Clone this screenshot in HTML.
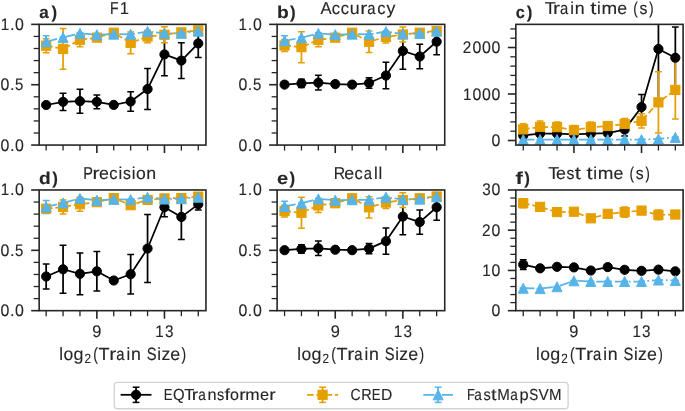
<!DOCTYPE html>
<html><head><meta charset="utf-8"><title>Figure</title><style>
html,body{margin:0;padding:0;background:#fff;width:685px;height:411px;overflow:hidden}
svg{display:block;will-change:transform}
text{font-family:"Liberation Sans",sans-serif;font-kerning:none;white-space:pre;text-rendering:geometricPrecision;stroke:#262626;stroke-width:0.12px}
</style></head><body>
<svg width="685" height="411" viewBox="0 0 685 411"><defs><clipPath id="c0"><rect x="39.16" y="24.37" width="166.79" height="120.70"/></clipPath><clipPath id="c1"><rect x="277.12" y="24.37" width="167.61" height="120.70"/></clipPath><clipPath id="c2"><rect x="515.84" y="24.37" width="167.26" height="120.70"/></clipPath><clipPath id="c3"><rect x="39.16" y="189.97" width="166.79" height="120.70"/></clipPath><clipPath id="c4"><rect x="277.12" y="189.97" width="167.61" height="120.70"/></clipPath><clipPath id="c5"><rect x="515.84" y="189.97" width="167.26" height="120.70"/></clipPath></defs><rect width="685" height="411" fill="#fff"/>
<line x1="33.66" y1="133.00" x2="39.16" y2="133.00" stroke="#262626" stroke-width="1.3"/>
<line x1="33.66" y1="120.93" x2="39.16" y2="120.93" stroke="#262626" stroke-width="1.3"/>
<line x1="33.66" y1="108.86" x2="39.16" y2="108.86" stroke="#262626" stroke-width="1.3"/>
<line x1="33.66" y1="96.79" x2="39.16" y2="96.79" stroke="#262626" stroke-width="1.3"/>
<line x1="33.66" y1="72.65" x2="39.16" y2="72.65" stroke="#262626" stroke-width="1.3"/>
<line x1="33.66" y1="60.58" x2="39.16" y2="60.58" stroke="#262626" stroke-width="1.3"/>
<line x1="33.66" y1="48.51" x2="39.16" y2="48.51" stroke="#262626" stroke-width="1.3"/>
<line x1="33.66" y1="36.44" x2="39.16" y2="36.44" stroke="#262626" stroke-width="1.3"/>
<line x1="31.16" y1="145.07" x2="39.16" y2="145.07" stroke="#262626" stroke-width="1.6"/>
<line x1="31.16" y1="84.72" x2="39.16" y2="84.72" stroke="#262626" stroke-width="1.6"/>
<line x1="31.16" y1="24.37" x2="39.16" y2="24.37" stroke="#262626" stroke-width="1.6"/>
<line x1="46.16" y1="145.07" x2="46.16" y2="150.57" stroke="#262626" stroke-width="1.3"/>
<line x1="63.06" y1="145.07" x2="63.06" y2="150.57" stroke="#262626" stroke-width="1.3"/>
<line x1="79.96" y1="145.07" x2="79.96" y2="150.57" stroke="#262626" stroke-width="1.3"/>
<line x1="96.86" y1="145.07" x2="96.86" y2="153.07" stroke="#262626" stroke-width="1.6"/>
<line x1="113.76" y1="145.07" x2="113.76" y2="150.57" stroke="#262626" stroke-width="1.3"/>
<line x1="130.66" y1="145.07" x2="130.66" y2="150.57" stroke="#262626" stroke-width="1.3"/>
<line x1="147.56" y1="145.07" x2="147.56" y2="150.57" stroke="#262626" stroke-width="1.3"/>
<line x1="164.46" y1="145.07" x2="164.46" y2="153.07" stroke="#262626" stroke-width="1.6"/>
<line x1="181.36" y1="145.07" x2="181.36" y2="150.57" stroke="#262626" stroke-width="1.3"/>
<line x1="198.26" y1="145.07" x2="198.26" y2="150.57" stroke="#262626" stroke-width="1.3"/>
<text y="151" font-size="16.75" fill="#262626"><tspan x="0.52" textLength="8.85" lengthAdjust="spacingAndGlyphs">0</tspan><tspan x="9.88" textLength="4.54" lengthAdjust="spacingAndGlyphs">.</tspan><tspan x="14.93" textLength="8.85" lengthAdjust="spacingAndGlyphs">0</tspan></text>
<text y="90" font-size="16.75" fill="#262626"><tspan x="0.52" textLength="8.85" lengthAdjust="spacingAndGlyphs">0</tspan><tspan x="9.88" textLength="4.54" lengthAdjust="spacingAndGlyphs">.</tspan><tspan x="15.12" textLength="8.35" lengthAdjust="spacingAndGlyphs">5</tspan></text>
<text y="30" font-size="16.75" fill="#262626"><tspan x="0.65" textLength="8.45" lengthAdjust="spacingAndGlyphs">1</tspan><tspan x="9.88" textLength="4.54" lengthAdjust="spacingAndGlyphs">.</tspan><tspan x="14.93" textLength="8.85" lengthAdjust="spacingAndGlyphs">0</tspan></text>
<g stroke="#000000" stroke-width="1.75" clip-path="url(#c0)"><line x1="46.16" y1="103.00" x2="46.16" y2="107.00"/><line x1="42.76" y1="103.00" x2="49.56" y2="103.00" stroke-width="1.5"/><line x1="42.76" y1="107.00" x2="49.56" y2="107.00" stroke-width="1.5"/><line x1="63.06" y1="93.16" x2="63.06" y2="110.56"/><line x1="59.66" y1="93.16" x2="66.46" y2="93.16" stroke-width="1.5"/><line x1="59.66" y1="110.56" x2="66.46" y2="110.56" stroke-width="1.5"/><line x1="79.96" y1="89.14" x2="79.96" y2="113.14"/><line x1="76.56" y1="89.14" x2="83.36" y2="89.14" stroke-width="1.5"/><line x1="76.56" y1="113.14" x2="83.36" y2="113.14" stroke-width="1.5"/><line x1="96.86" y1="94.96" x2="96.86" y2="108.76"/><line x1="93.46" y1="94.96" x2="100.26" y2="94.96" stroke-width="1.5"/><line x1="93.46" y1="108.76" x2="100.26" y2="108.76" stroke-width="1.5"/><line x1="113.76" y1="102.88" x2="113.76" y2="106.88"/><line x1="110.36" y1="102.88" x2="117.16" y2="102.88" stroke-width="1.5"/><line x1="110.36" y1="106.88" x2="117.16" y2="106.88" stroke-width="1.5"/><line x1="130.66" y1="91.80" x2="130.66" y2="111.20"/><line x1="127.26" y1="91.80" x2="134.06" y2="91.80" stroke-width="1.5"/><line x1="127.26" y1="111.20" x2="134.06" y2="111.20" stroke-width="1.5"/><line x1="147.56" y1="68.57" x2="147.56" y2="109.57"/><line x1="144.16" y1="68.57" x2="150.96" y2="68.57" stroke-width="1.5"/><line x1="144.16" y1="109.57" x2="150.96" y2="109.57" stroke-width="1.5"/><line x1="164.46" y1="33.02" x2="164.46" y2="75.82"/><line x1="161.06" y1="33.02" x2="167.86" y2="33.02" stroke-width="1.5"/><line x1="161.06" y1="75.82" x2="167.86" y2="75.82" stroke-width="1.5"/><line x1="181.36" y1="42.78" x2="181.36" y2="78.38"/><line x1="177.96" y1="42.78" x2="184.76" y2="42.78" stroke-width="1.5"/><line x1="177.96" y1="78.38" x2="184.76" y2="78.38" stroke-width="1.5"/><line x1="198.26" y1="29.34" x2="198.26" y2="57.54"/><line x1="194.86" y1="29.34" x2="201.66" y2="29.34" stroke-width="1.5"/><line x1="194.86" y1="57.54" x2="201.66" y2="57.54" stroke-width="1.5"/></g>
<g stroke="#e69f00" stroke-width="1.75" clip-path="url(#c0)"><line x1="46.16" y1="38.83" x2="46.16" y2="52.63"/><line x1="42.76" y1="38.83" x2="49.56" y2="38.83" stroke-width="1.5"/><line x1="42.76" y1="52.63" x2="49.56" y2="52.63" stroke-width="1.5"/><line x1="63.06" y1="28.47" x2="63.06" y2="69.27"/><line x1="59.66" y1="28.47" x2="66.46" y2="28.47" stroke-width="1.5"/><line x1="59.66" y1="69.27" x2="66.46" y2="69.27" stroke-width="1.5"/><line x1="79.96" y1="33.14" x2="79.96" y2="46.74"/><line x1="76.56" y1="33.14" x2="83.36" y2="33.14" stroke-width="1.5"/><line x1="76.56" y1="46.74" x2="83.36" y2="46.74" stroke-width="1.5"/><line x1="96.86" y1="34.65" x2="96.86" y2="40.65"/><line x1="93.46" y1="34.65" x2="100.26" y2="34.65" stroke-width="1.5"/><line x1="93.46" y1="40.65" x2="100.26" y2="40.65" stroke-width="1.5"/><line x1="113.76" y1="30.70" x2="113.76" y2="34.70"/><line x1="110.36" y1="30.70" x2="117.16" y2="30.70" stroke-width="1.5"/><line x1="110.36" y1="34.70" x2="117.16" y2="34.70" stroke-width="1.5"/><line x1="130.66" y1="32.04" x2="130.66" y2="53.64"/><line x1="127.26" y1="32.04" x2="134.06" y2="32.04" stroke-width="1.5"/><line x1="127.26" y1="53.64" x2="134.06" y2="53.64" stroke-width="1.5"/><line x1="147.56" y1="30.26" x2="147.56" y2="42.86"/><line x1="144.16" y1="30.26" x2="150.96" y2="30.26" stroke-width="1.5"/><line x1="144.16" y1="42.86" x2="150.96" y2="42.86" stroke-width="1.5"/><line x1="164.46" y1="26.75" x2="164.46" y2="42.75"/><line x1="161.06" y1="26.75" x2="167.86" y2="26.75" stroke-width="1.5"/><line x1="161.06" y1="42.75" x2="167.86" y2="42.75" stroke-width="1.5"/><line x1="181.36" y1="29.34" x2="181.36" y2="35.34"/><line x1="177.96" y1="29.34" x2="184.76" y2="29.34" stroke-width="1.5"/><line x1="177.96" y1="35.34" x2="184.76" y2="35.34" stroke-width="1.5"/><line x1="198.26" y1="27.41" x2="198.26" y2="33.41"/><line x1="194.86" y1="27.41" x2="201.66" y2="27.41" stroke-width="1.5"/><line x1="194.86" y1="33.41" x2="201.66" y2="33.41" stroke-width="1.5"/></g>
<g stroke="#56b4e9" stroke-width="1.75" clip-path="url(#c0)"><line x1="46.16" y1="35.65" x2="46.16" y2="47.85"/><line x1="42.76" y1="35.65" x2="49.56" y2="35.65" stroke-width="1.5"/><line x1="42.76" y1="47.85" x2="49.56" y2="47.85" stroke-width="1.5"/><line x1="63.06" y1="37.11" x2="63.06" y2="37.71"/><line x1="59.66" y1="37.11" x2="66.46" y2="37.11" stroke-width="1.5"/><line x1="59.66" y1="37.71" x2="66.46" y2="37.71" stroke-width="1.5"/><line x1="79.96" y1="33.12" x2="79.96" y2="33.72"/><line x1="76.56" y1="33.12" x2="83.36" y2="33.12" stroke-width="1.5"/><line x1="76.56" y1="33.72" x2="83.36" y2="33.72" stroke-width="1.5"/><line x1="96.86" y1="34.45" x2="96.86" y2="35.05"/><line x1="93.46" y1="34.45" x2="100.26" y2="34.45" stroke-width="1.5"/><line x1="93.46" y1="35.05" x2="100.26" y2="35.05" stroke-width="1.5"/><line x1="113.76" y1="33.85" x2="113.76" y2="34.45"/><line x1="110.36" y1="33.85" x2="117.16" y2="33.85" stroke-width="1.5"/><line x1="110.36" y1="34.45" x2="117.16" y2="34.45" stroke-width="1.5"/><line x1="130.66" y1="33.97" x2="130.66" y2="34.57"/><line x1="127.26" y1="33.97" x2="134.06" y2="33.97" stroke-width="1.5"/><line x1="127.26" y1="34.57" x2="134.06" y2="34.57" stroke-width="1.5"/><line x1="147.56" y1="31.19" x2="147.56" y2="31.79"/><line x1="144.16" y1="31.19" x2="150.96" y2="31.19" stroke-width="1.5"/><line x1="144.16" y1="31.79" x2="150.96" y2="31.79" stroke-width="1.5"/><line x1="164.46" y1="33.00" x2="164.46" y2="33.60"/><line x1="161.06" y1="33.00" x2="167.86" y2="33.00" stroke-width="1.5"/><line x1="161.06" y1="33.60" x2="167.86" y2="33.60" stroke-width="1.5"/><line x1="181.36" y1="33.00" x2="181.36" y2="33.60"/><line x1="177.96" y1="33.00" x2="184.76" y2="33.00" stroke-width="1.5"/><line x1="177.96" y1="33.60" x2="184.76" y2="33.60" stroke-width="1.5"/><line x1="198.26" y1="30.83" x2="198.26" y2="31.43"/><line x1="194.86" y1="30.83" x2="201.66" y2="30.83" stroke-width="1.5"/><line x1="194.86" y1="31.43" x2="201.66" y2="31.43" stroke-width="1.5"/></g>
<path d="M46.16,105.00 L63.06,101.86 L79.96,101.14 L96.86,101.86 L113.76,104.88 L130.66,101.50 L147.56,89.07 L164.46,54.42 L181.36,60.58 L198.26,43.44" fill="none" stroke="#000000" stroke-width="1.75" stroke-linejoin="round" clip-path="url(#c0)"/><g fill="#000000" stroke="#000000" stroke-width="1.0" clip-path="url(#c0)"><circle cx="46.16" cy="105.00" r="4.60"/><circle cx="63.06" cy="101.86" r="4.60"/><circle cx="79.96" cy="101.14" r="4.60"/><circle cx="96.86" cy="101.86" r="4.60"/><circle cx="113.76" cy="104.88" r="4.60"/><circle cx="130.66" cy="101.50" r="4.60"/><circle cx="147.56" cy="89.07" r="4.60"/><circle cx="164.46" cy="54.42" r="4.60"/><circle cx="181.36" cy="60.58" r="4.60"/><circle cx="198.26" cy="43.44" r="4.60"/></g>
<path d="M46.16,45.73 L63.06,48.87 L79.96,39.94 L96.86,37.65 L113.76,32.70 L130.66,42.84 L147.56,36.56 L164.46,34.75 L181.36,32.34 L198.26,30.41" fill="none" stroke="#e69f00" stroke-width="1.75" stroke-dasharray="6.48 2.80" stroke-linejoin="round" clip-path="url(#c0)"/><g fill="#e69f00" stroke="#e69f00" stroke-width="1.0" clip-path="url(#c0)"><rect x="41.56" y="41.13" width="9.20" height="9.20"/><rect x="58.46" y="44.27" width="9.20" height="9.20"/><rect x="75.36" y="35.34" width="9.20" height="9.20"/><rect x="92.26" y="33.05" width="9.20" height="9.20"/><rect x="109.16" y="28.10" width="9.20" height="9.20"/><rect x="126.06" y="38.24" width="9.20" height="9.20"/><rect x="142.96" y="31.96" width="9.20" height="9.20"/><rect x="159.86" y="30.15" width="9.20" height="9.20"/><rect x="176.76" y="27.74" width="9.20" height="9.20"/><rect x="193.66" y="25.80" width="9.20" height="9.20"/></g>
<path d="M46.16,41.75 L63.06,37.41 L79.96,33.42 L96.86,34.75 L113.76,34.15 L130.66,34.27 L147.56,31.49 L164.46,33.30 L181.36,33.30 L198.26,31.13" fill="none" stroke="#56b4e9" stroke-width="1.75" stroke-dasharray="11.20 2.80 1.75 2.80" stroke-linejoin="round" clip-path="url(#c0)"/><g fill="#56b4e9" stroke="#56b4e9" stroke-width="1.0" clip-path="url(#c0)"><path d="M46.16,36.75 L41.16,46.75 L51.16,46.75 Z"/><path d="M63.06,32.41 L58.06,42.41 L68.06,42.41 Z"/><path d="M79.96,28.42 L74.96,38.42 L84.96,38.42 Z"/><path d="M96.86,29.75 L91.86,39.75 L101.86,39.75 Z"/><path d="M113.76,29.15 L108.76,39.15 L118.76,39.15 Z"/><path d="M130.66,29.27 L125.66,39.27 L135.66,39.27 Z"/><path d="M147.56,26.49 L142.56,36.49 L152.56,36.49 Z"/><path d="M164.46,28.30 L159.46,38.30 L169.46,38.30 Z"/><path d="M181.36,28.30 L176.36,38.30 L186.36,38.30 Z"/><path d="M198.26,26.13 L193.26,36.13 L203.26,36.13 Z"/></g>
<rect x="39.16" y="24.37" width="166.79" height="120.70" fill="none" stroke="#262626" stroke-width="1.6" stroke-linecap="square"/>
<line x1="271.62" y1="133.00" x2="277.12" y2="133.00" stroke="#262626" stroke-width="1.3"/>
<line x1="271.62" y1="120.93" x2="277.12" y2="120.93" stroke="#262626" stroke-width="1.3"/>
<line x1="271.62" y1="108.86" x2="277.12" y2="108.86" stroke="#262626" stroke-width="1.3"/>
<line x1="271.62" y1="96.79" x2="277.12" y2="96.79" stroke="#262626" stroke-width="1.3"/>
<line x1="271.62" y1="72.65" x2="277.12" y2="72.65" stroke="#262626" stroke-width="1.3"/>
<line x1="271.62" y1="60.58" x2="277.12" y2="60.58" stroke="#262626" stroke-width="1.3"/>
<line x1="271.62" y1="48.51" x2="277.12" y2="48.51" stroke="#262626" stroke-width="1.3"/>
<line x1="271.62" y1="36.44" x2="277.12" y2="36.44" stroke="#262626" stroke-width="1.3"/>
<line x1="269.12" y1="145.07" x2="277.12" y2="145.07" stroke="#262626" stroke-width="1.6"/>
<line x1="269.12" y1="84.72" x2="277.12" y2="84.72" stroke="#262626" stroke-width="1.6"/>
<line x1="269.12" y1="24.37" x2="277.12" y2="24.37" stroke="#262626" stroke-width="1.6"/>
<line x1="284.55" y1="145.07" x2="284.55" y2="150.57" stroke="#262626" stroke-width="1.3"/>
<line x1="301.45" y1="145.07" x2="301.45" y2="150.57" stroke="#262626" stroke-width="1.3"/>
<line x1="318.35" y1="145.07" x2="318.35" y2="150.57" stroke="#262626" stroke-width="1.3"/>
<line x1="335.25" y1="145.07" x2="335.25" y2="153.07" stroke="#262626" stroke-width="1.6"/>
<line x1="352.15" y1="145.07" x2="352.15" y2="150.57" stroke="#262626" stroke-width="1.3"/>
<line x1="369.05" y1="145.07" x2="369.05" y2="150.57" stroke="#262626" stroke-width="1.3"/>
<line x1="385.95" y1="145.07" x2="385.95" y2="150.57" stroke="#262626" stroke-width="1.3"/>
<line x1="402.85" y1="145.07" x2="402.85" y2="153.07" stroke="#262626" stroke-width="1.6"/>
<line x1="419.75" y1="145.07" x2="419.75" y2="150.57" stroke="#262626" stroke-width="1.3"/>
<line x1="436.65" y1="145.07" x2="436.65" y2="150.57" stroke="#262626" stroke-width="1.3"/>
<text y="151" font-size="16.75" fill="#262626"><tspan x="238.48" textLength="8.85" lengthAdjust="spacingAndGlyphs">0</tspan><tspan x="247.84" textLength="4.54" lengthAdjust="spacingAndGlyphs">.</tspan><tspan x="252.89" textLength="8.85" lengthAdjust="spacingAndGlyphs">0</tspan></text>
<text y="90" font-size="16.75" fill="#262626"><tspan x="238.48" textLength="8.85" lengthAdjust="spacingAndGlyphs">0</tspan><tspan x="247.84" textLength="4.54" lengthAdjust="spacingAndGlyphs">.</tspan><tspan x="253.08" textLength="8.35" lengthAdjust="spacingAndGlyphs">5</tspan></text>
<text y="30" font-size="16.75" fill="#262626"><tspan x="238.61" textLength="8.45" lengthAdjust="spacingAndGlyphs">1</tspan><tspan x="247.84" textLength="4.54" lengthAdjust="spacingAndGlyphs">.</tspan><tspan x="252.89" textLength="8.85" lengthAdjust="spacingAndGlyphs">0</tspan></text>
<g stroke="#000000" stroke-width="1.75" clip-path="url(#c1)"><line x1="284.55" y1="82.60" x2="284.55" y2="86.60"/><line x1="281.15" y1="82.60" x2="287.95" y2="82.60" stroke-width="1.5"/><line x1="281.15" y1="86.60" x2="287.95" y2="86.60" stroke-width="1.5"/><line x1="301.45" y1="79.19" x2="301.45" y2="87.59"/><line x1="298.05" y1="79.19" x2="304.85" y2="79.19" stroke-width="1.5"/><line x1="298.05" y1="87.59" x2="304.85" y2="87.59" stroke-width="1.5"/><line x1="318.35" y1="75.37" x2="318.35" y2="89.97"/><line x1="314.95" y1="75.37" x2="321.75" y2="75.37" stroke-width="1.5"/><line x1="314.95" y1="89.97" x2="321.75" y2="89.97" stroke-width="1.5"/><line x1="335.25" y1="82.12" x2="335.25" y2="86.12"/><line x1="331.85" y1="82.12" x2="338.65" y2="82.12" stroke-width="1.5"/><line x1="331.85" y1="86.12" x2="338.65" y2="86.12" stroke-width="1.5"/><line x1="352.15" y1="82.60" x2="352.15" y2="86.60"/><line x1="348.75" y1="82.60" x2="355.55" y2="82.60" stroke-width="1.5"/><line x1="348.75" y1="86.60" x2="355.55" y2="86.60" stroke-width="1.5"/><line x1="369.05" y1="77.83" x2="369.05" y2="88.23"/><line x1="365.65" y1="77.83" x2="372.45" y2="77.83" stroke-width="1.5"/><line x1="365.65" y1="88.23" x2="372.45" y2="88.23" stroke-width="1.5"/><line x1="385.95" y1="62.35" x2="385.95" y2="88.75"/><line x1="382.55" y1="62.35" x2="389.35" y2="62.35" stroke-width="1.5"/><line x1="382.55" y1="88.75" x2="389.35" y2="88.75" stroke-width="1.5"/><line x1="402.85" y1="32.62" x2="402.85" y2="69.22"/><line x1="399.45" y1="32.62" x2="406.25" y2="32.62" stroke-width="1.5"/><line x1="399.45" y1="69.22" x2="406.25" y2="69.22" stroke-width="1.5"/><line x1="419.75" y1="44.28" x2="419.75" y2="68.68"/><line x1="416.35" y1="44.28" x2="423.15" y2="44.28" stroke-width="1.5"/><line x1="416.35" y1="68.68" x2="423.15" y2="68.68" stroke-width="1.5"/><line x1="436.65" y1="28.53" x2="436.65" y2="54.73"/><line x1="433.25" y1="28.53" x2="440.05" y2="28.53" stroke-width="1.5"/><line x1="433.25" y1="54.73" x2="440.05" y2="54.73" stroke-width="1.5"/></g>
<g stroke="#e69f00" stroke-width="1.75" clip-path="url(#c1)"><line x1="284.55" y1="39.59" x2="284.55" y2="51.39"/><line x1="281.15" y1="39.59" x2="287.95" y2="39.59" stroke-width="1.5"/><line x1="281.15" y1="51.39" x2="287.95" y2="51.39" stroke-width="1.5"/><line x1="301.45" y1="31.68" x2="301.45" y2="62.68"/><line x1="298.05" y1="31.68" x2="304.85" y2="31.68" stroke-width="1.5"/><line x1="298.05" y1="62.68" x2="304.85" y2="62.68" stroke-width="1.5"/><line x1="318.35" y1="32.82" x2="318.35" y2="46.82"/><line x1="314.95" y1="32.82" x2="321.75" y2="32.82" stroke-width="1.5"/><line x1="314.95" y1="46.82" x2="321.75" y2="46.82" stroke-width="1.5"/><line x1="335.25" y1="34.65" x2="335.25" y2="40.65"/><line x1="331.85" y1="34.65" x2="338.65" y2="34.65" stroke-width="1.5"/><line x1="331.85" y1="40.65" x2="338.65" y2="40.65" stroke-width="1.5"/><line x1="352.15" y1="30.70" x2="352.15" y2="34.70"/><line x1="348.75" y1="30.70" x2="355.55" y2="30.70" stroke-width="1.5"/><line x1="348.75" y1="34.70" x2="355.55" y2="34.70" stroke-width="1.5"/><line x1="369.05" y1="31.05" x2="369.05" y2="52.45"/><line x1="365.65" y1="31.05" x2="372.45" y2="31.05" stroke-width="1.5"/><line x1="365.65" y1="52.45" x2="372.45" y2="52.45" stroke-width="1.5"/><line x1="385.95" y1="30.92" x2="385.95" y2="42.92"/><line x1="382.55" y1="30.92" x2="389.35" y2="30.92" stroke-width="1.5"/><line x1="382.55" y1="42.92" x2="389.35" y2="42.92" stroke-width="1.5"/><line x1="402.85" y1="27.11" x2="402.85" y2="41.91"/><line x1="399.45" y1="27.11" x2="406.25" y2="27.11" stroke-width="1.5"/><line x1="399.45" y1="41.91" x2="406.25" y2="41.91" stroke-width="1.5"/><line x1="419.75" y1="29.70" x2="419.75" y2="35.70"/><line x1="416.35" y1="29.70" x2="423.15" y2="29.70" stroke-width="1.5"/><line x1="416.35" y1="35.70" x2="423.15" y2="35.70" stroke-width="1.5"/><line x1="436.65" y1="27.89" x2="436.65" y2="33.89"/><line x1="433.25" y1="27.89" x2="440.05" y2="27.89" stroke-width="1.5"/><line x1="433.25" y1="33.89" x2="440.05" y2="33.89" stroke-width="1.5"/></g>
<g stroke="#56b4e9" stroke-width="1.75" clip-path="url(#c1)"><line x1="284.55" y1="35.69" x2="284.55" y2="45.89"/><line x1="281.15" y1="35.69" x2="287.95" y2="35.69" stroke-width="1.5"/><line x1="281.15" y1="45.89" x2="287.95" y2="45.89" stroke-width="1.5"/><line x1="301.45" y1="37.35" x2="301.45" y2="37.95"/><line x1="298.05" y1="37.35" x2="304.85" y2="37.35" stroke-width="1.5"/><line x1="298.05" y1="37.95" x2="304.85" y2="37.95" stroke-width="1.5"/><line x1="318.35" y1="33.12" x2="318.35" y2="33.72"/><line x1="314.95" y1="33.12" x2="321.75" y2="33.12" stroke-width="1.5"/><line x1="314.95" y1="33.72" x2="321.75" y2="33.72" stroke-width="1.5"/><line x1="335.25" y1="34.33" x2="335.25" y2="34.93"/><line x1="331.85" y1="34.33" x2="338.65" y2="34.33" stroke-width="1.5"/><line x1="331.85" y1="34.93" x2="338.65" y2="34.93" stroke-width="1.5"/><line x1="352.15" y1="33.85" x2="352.15" y2="34.45"/><line x1="348.75" y1="33.85" x2="355.55" y2="33.85" stroke-width="1.5"/><line x1="348.75" y1="34.45" x2="355.55" y2="34.45" stroke-width="1.5"/><line x1="369.05" y1="33.97" x2="369.05" y2="34.57"/><line x1="365.65" y1="33.97" x2="372.45" y2="33.97" stroke-width="1.5"/><line x1="365.65" y1="34.57" x2="372.45" y2="34.57" stroke-width="1.5"/><line x1="385.95" y1="31.31" x2="385.95" y2="31.91"/><line x1="382.55" y1="31.31" x2="389.35" y2="31.31" stroke-width="1.5"/><line x1="382.55" y1="31.91" x2="389.35" y2="31.91" stroke-width="1.5"/><line x1="402.85" y1="33.61" x2="402.85" y2="34.21"/><line x1="399.45" y1="33.61" x2="406.25" y2="33.61" stroke-width="1.5"/><line x1="399.45" y1="34.21" x2="406.25" y2="34.21" stroke-width="1.5"/><line x1="419.75" y1="33.24" x2="419.75" y2="33.84"/><line x1="416.35" y1="33.24" x2="423.15" y2="33.24" stroke-width="1.5"/><line x1="416.35" y1="33.84" x2="423.15" y2="33.84" stroke-width="1.5"/><line x1="436.65" y1="30.83" x2="436.65" y2="31.43"/><line x1="433.25" y1="30.83" x2="440.05" y2="30.83" stroke-width="1.5"/><line x1="433.25" y1="31.43" x2="440.05" y2="31.43" stroke-width="1.5"/></g>
<path d="M284.55,84.60 L301.45,83.39 L318.35,82.67 L335.25,84.12 L352.15,84.60 L369.05,83.03 L385.95,75.55 L402.85,50.92 L419.75,56.48 L436.65,41.63" fill="none" stroke="#000000" stroke-width="1.75" stroke-linejoin="round" clip-path="url(#c1)"/><g fill="#000000" stroke="#000000" stroke-width="1.0" clip-path="url(#c1)"><circle cx="284.55" cy="84.60" r="4.60"/><circle cx="301.45" cy="83.39" r="4.60"/><circle cx="318.35" cy="82.67" r="4.60"/><circle cx="335.25" cy="84.12" r="4.60"/><circle cx="352.15" cy="84.60" r="4.60"/><circle cx="369.05" cy="83.03" r="4.60"/><circle cx="385.95" cy="75.55" r="4.60"/><circle cx="402.85" cy="50.92" r="4.60"/><circle cx="419.75" cy="56.48" r="4.60"/><circle cx="436.65" cy="41.63" r="4.60"/></g>
<path d="M284.55,45.49 L301.45,47.18 L318.35,39.82 L335.25,37.65 L352.15,32.70 L369.05,41.75 L385.95,36.92 L402.85,34.51 L419.75,32.70 L436.65,30.89" fill="none" stroke="#e69f00" stroke-width="1.75" stroke-dasharray="6.48 2.80" stroke-linejoin="round" clip-path="url(#c1)"/><g fill="#e69f00" stroke="#e69f00" stroke-width="1.0" clip-path="url(#c1)"><rect x="279.95" y="40.89" width="9.20" height="9.20"/><rect x="296.85" y="42.58" width="9.20" height="9.20"/><rect x="313.75" y="35.22" width="9.20" height="9.20"/><rect x="330.65" y="33.05" width="9.20" height="9.20"/><rect x="347.55" y="28.10" width="9.20" height="9.20"/><rect x="364.45" y="37.15" width="9.20" height="9.20"/><rect x="381.35" y="32.32" width="9.20" height="9.20"/><rect x="398.25" y="29.91" width="9.20" height="9.20"/><rect x="415.15" y="28.10" width="9.20" height="9.20"/><rect x="432.05" y="26.29" width="9.20" height="9.20"/></g>
<path d="M284.55,40.79 L301.45,37.65 L318.35,33.42 L335.25,34.63 L352.15,34.15 L369.05,34.27 L385.95,31.61 L402.85,33.91 L419.75,33.54 L436.65,31.13" fill="none" stroke="#56b4e9" stroke-width="1.75" stroke-dasharray="11.20 2.80 1.75 2.80" stroke-linejoin="round" clip-path="url(#c1)"/><g fill="#56b4e9" stroke="#56b4e9" stroke-width="1.0" clip-path="url(#c1)"><path d="M284.55,35.79 L279.55,45.79 L289.55,45.79 Z"/><path d="M301.45,32.65 L296.45,42.65 L306.45,42.65 Z"/><path d="M318.35,28.42 L313.35,38.42 L323.35,38.42 Z"/><path d="M335.25,29.63 L330.25,39.63 L340.25,39.63 Z"/><path d="M352.15,29.15 L347.15,39.15 L357.15,39.15 Z"/><path d="M369.05,29.27 L364.05,39.27 L374.05,39.27 Z"/><path d="M385.95,26.61 L380.95,36.61 L390.95,36.61 Z"/><path d="M402.85,28.91 L397.85,38.91 L407.85,38.91 Z"/><path d="M419.75,28.54 L414.75,38.54 L424.75,38.54 Z"/><path d="M436.65,26.13 L431.65,36.13 L441.65,36.13 Z"/></g>
<rect x="277.12" y="24.37" width="167.61" height="120.70" fill="none" stroke="#262626" stroke-width="1.6" stroke-linecap="square"/>
<line x1="510.34" y1="131.20" x2="515.84" y2="131.20" stroke="#262626" stroke-width="1.3"/>
<line x1="510.34" y1="121.90" x2="515.84" y2="121.90" stroke="#262626" stroke-width="1.3"/>
<line x1="510.34" y1="112.61" x2="515.84" y2="112.61" stroke="#262626" stroke-width="1.3"/>
<line x1="510.34" y1="103.31" x2="515.84" y2="103.31" stroke="#262626" stroke-width="1.3"/>
<line x1="510.34" y1="84.71" x2="515.84" y2="84.71" stroke="#262626" stroke-width="1.3"/>
<line x1="510.34" y1="75.41" x2="515.84" y2="75.41" stroke="#262626" stroke-width="1.3"/>
<line x1="510.34" y1="66.12" x2="515.84" y2="66.12" stroke="#262626" stroke-width="1.3"/>
<line x1="510.34" y1="56.82" x2="515.84" y2="56.82" stroke="#262626" stroke-width="1.3"/>
<line x1="510.34" y1="38.22" x2="515.84" y2="38.22" stroke="#262626" stroke-width="1.3"/>
<line x1="510.34" y1="28.92" x2="515.84" y2="28.92" stroke="#262626" stroke-width="1.3"/>
<line x1="507.84" y1="140.50" x2="515.84" y2="140.50" stroke="#262626" stroke-width="1.6"/>
<line x1="507.84" y1="94.01" x2="515.84" y2="94.01" stroke="#262626" stroke-width="1.6"/>
<line x1="507.84" y1="47.52" x2="515.84" y2="47.52" stroke="#262626" stroke-width="1.6"/>
<line x1="523.23" y1="145.07" x2="523.23" y2="150.57" stroke="#262626" stroke-width="1.3"/>
<line x1="540.13" y1="145.07" x2="540.13" y2="150.57" stroke="#262626" stroke-width="1.3"/>
<line x1="557.03" y1="145.07" x2="557.03" y2="150.57" stroke="#262626" stroke-width="1.3"/>
<line x1="573.93" y1="145.07" x2="573.93" y2="153.07" stroke="#262626" stroke-width="1.6"/>
<line x1="590.83" y1="145.07" x2="590.83" y2="150.57" stroke="#262626" stroke-width="1.3"/>
<line x1="607.73" y1="145.07" x2="607.73" y2="150.57" stroke="#262626" stroke-width="1.3"/>
<line x1="624.63" y1="145.07" x2="624.63" y2="150.57" stroke="#262626" stroke-width="1.3"/>
<line x1="641.53" y1="145.07" x2="641.53" y2="153.07" stroke="#262626" stroke-width="1.6"/>
<line x1="658.43" y1="145.07" x2="658.43" y2="150.57" stroke="#262626" stroke-width="1.3"/>
<line x1="675.33" y1="145.07" x2="675.33" y2="150.57" stroke="#262626" stroke-width="1.3"/>
<text y="146" font-size="16.75" fill="#262626"><tspan x="491.61" textLength="8.85" lengthAdjust="spacingAndGlyphs">0</tspan></text>
<text y="100" font-size="16.75" fill="#262626"><tspan x="462.91" textLength="8.45" lengthAdjust="spacingAndGlyphs">1</tspan><tspan x="472.39" textLength="8.85" lengthAdjust="spacingAndGlyphs">0</tspan><tspan x="482.00" textLength="8.85" lengthAdjust="spacingAndGlyphs">0</tspan><tspan x="491.61" textLength="8.85" lengthAdjust="spacingAndGlyphs">0</tspan></text>
<text y="53" font-size="16.75" fill="#262626"><tspan x="462.75" textLength="8.53" lengthAdjust="spacingAndGlyphs">2</tspan><tspan x="472.39" textLength="8.85" lengthAdjust="spacingAndGlyphs">0</tspan><tspan x="482.00" textLength="8.85" lengthAdjust="spacingAndGlyphs">0</tspan><tspan x="491.61" textLength="8.85" lengthAdjust="spacingAndGlyphs">0</tspan></text>
<g stroke="#000000" stroke-width="1.75" clip-path="url(#c2)"><line x1="523.23" y1="134.03" x2="523.23" y2="136.84"/><line x1="519.83" y1="134.03" x2="526.63" y2="134.03" stroke-width="1.5"/><line x1="519.83" y1="136.84" x2="526.63" y2="136.84" stroke-width="1.5"/><line x1="540.13" y1="132.19" x2="540.13" y2="134.99"/><line x1="536.73" y1="132.19" x2="543.53" y2="132.19" stroke-width="1.5"/><line x1="536.73" y1="134.99" x2="543.53" y2="134.99" stroke-width="1.5"/><line x1="557.03" y1="132.19" x2="557.03" y2="134.99"/><line x1="553.63" y1="132.19" x2="560.43" y2="132.19" stroke-width="1.5"/><line x1="553.63" y1="134.99" x2="560.43" y2="134.99" stroke-width="1.5"/><line x1="573.93" y1="133.02" x2="573.93" y2="135.82"/><line x1="570.53" y1="133.02" x2="577.33" y2="133.02" stroke-width="1.5"/><line x1="570.53" y1="135.82" x2="577.33" y2="135.82" stroke-width="1.5"/><line x1="590.83" y1="132.19" x2="590.83" y2="134.99"/><line x1="587.43" y1="132.19" x2="594.23" y2="132.19" stroke-width="1.5"/><line x1="587.43" y1="134.99" x2="594.23" y2="134.99" stroke-width="1.5"/><line x1="607.73" y1="131.64" x2="607.73" y2="134.44"/><line x1="604.33" y1="131.64" x2="611.13" y2="131.64" stroke-width="1.5"/><line x1="604.33" y1="134.44" x2="611.13" y2="134.44" stroke-width="1.5"/><line x1="624.63" y1="123.12" x2="624.63" y2="136.12"/><line x1="621.23" y1="123.12" x2="628.03" y2="123.12" stroke-width="1.5"/><line x1="621.23" y1="136.12" x2="628.03" y2="136.12" stroke-width="1.5"/><line x1="641.53" y1="94.41" x2="641.53" y2="119.61"/><line x1="638.13" y1="94.41" x2="644.93" y2="94.41" stroke-width="1.5"/><line x1="638.13" y1="119.61" x2="644.93" y2="119.61" stroke-width="1.5"/><line x1="658.43" y1="-4.50" x2="658.43" y2="102.50"/><line x1="655.03" y1="-4.50" x2="661.83" y2="-4.50" stroke-width="1.5"/><line x1="655.03" y1="102.50" x2="661.83" y2="102.50" stroke-width="1.5"/><line x1="675.33" y1="27.02" x2="675.33" y2="88.42"/><line x1="671.93" y1="27.02" x2="678.73" y2="27.02" stroke-width="1.5"/><line x1="671.93" y1="88.42" x2="678.73" y2="88.42" stroke-width="1.5"/></g>
<g stroke="#e69f00" stroke-width="1.75" clip-path="url(#c2)"><line x1="523.23" y1="123.79" x2="523.23" y2="134.99"/><line x1="519.83" y1="123.79" x2="526.63" y2="123.79" stroke-width="1.5"/><line x1="519.83" y1="134.99" x2="526.63" y2="134.99" stroke-width="1.5"/><line x1="540.13" y1="120.99" x2="540.13" y2="132.99"/><line x1="536.73" y1="120.99" x2="543.53" y2="120.99" stroke-width="1.5"/><line x1="536.73" y1="132.99" x2="543.53" y2="132.99" stroke-width="1.5"/><line x1="557.03" y1="121.97" x2="557.03" y2="132.37"/><line x1="553.63" y1="121.97" x2="560.43" y2="121.97" stroke-width="1.5"/><line x1="553.63" y1="132.37" x2="560.43" y2="132.37" stroke-width="1.5"/><line x1="573.93" y1="125.42" x2="573.93" y2="135.02"/><line x1="570.53" y1="125.42" x2="577.33" y2="125.42" stroke-width="1.5"/><line x1="570.53" y1="135.02" x2="577.33" y2="135.02" stroke-width="1.5"/><line x1="590.83" y1="121.97" x2="590.83" y2="132.37"/><line x1="587.43" y1="121.97" x2="594.23" y2="121.97" stroke-width="1.5"/><line x1="587.43" y1="132.37" x2="594.23" y2="132.37" stroke-width="1.5"/><line x1="607.73" y1="123.02" x2="607.73" y2="129.02"/><line x1="604.33" y1="123.02" x2="611.13" y2="123.02" stroke-width="1.5"/><line x1="604.33" y1="129.02" x2="611.13" y2="129.02" stroke-width="1.5"/><line x1="624.63" y1="118.49" x2="624.63" y2="129.49"/><line x1="621.23" y1="118.49" x2="628.03" y2="118.49" stroke-width="1.5"/><line x1="621.23" y1="129.49" x2="628.03" y2="129.49" stroke-width="1.5"/><line x1="641.53" y1="113.71" x2="641.53" y2="127.91"/><line x1="638.13" y1="113.71" x2="644.93" y2="113.71" stroke-width="1.5"/><line x1="638.13" y1="127.91" x2="644.93" y2="127.91" stroke-width="1.5"/><line x1="658.43" y1="71.79" x2="658.43" y2="132.99"/><line x1="655.03" y1="71.79" x2="661.83" y2="71.79" stroke-width="1.5"/><line x1="655.03" y1="132.99" x2="661.83" y2="132.99" stroke-width="1.5"/><line x1="675.33" y1="60.88" x2="675.33" y2="118.88"/><line x1="671.93" y1="60.88" x2="678.73" y2="60.88" stroke-width="1.5"/><line x1="671.93" y1="118.88" x2="678.73" y2="118.88" stroke-width="1.5"/></g>
<g stroke="#56b4e9" stroke-width="1.75" clip-path="url(#c2)"><line x1="523.23" y1="139.29" x2="523.23" y2="139.89"/><line x1="519.83" y1="139.29" x2="526.63" y2="139.29" stroke-width="1.5"/><line x1="519.83" y1="139.89" x2="526.63" y2="139.89" stroke-width="1.5"/><line x1="540.13" y1="139.29" x2="540.13" y2="139.89"/><line x1="536.73" y1="139.29" x2="543.53" y2="139.29" stroke-width="1.5"/><line x1="536.73" y1="139.89" x2="543.53" y2="139.89" stroke-width="1.5"/><line x1="557.03" y1="139.29" x2="557.03" y2="139.89"/><line x1="553.63" y1="139.29" x2="560.43" y2="139.29" stroke-width="1.5"/><line x1="553.63" y1="139.89" x2="560.43" y2="139.89" stroke-width="1.5"/><line x1="573.93" y1="139.29" x2="573.93" y2="139.89"/><line x1="570.53" y1="139.29" x2="577.33" y2="139.29" stroke-width="1.5"/><line x1="570.53" y1="139.89" x2="577.33" y2="139.89" stroke-width="1.5"/><line x1="590.83" y1="139.29" x2="590.83" y2="139.89"/><line x1="587.43" y1="139.29" x2="594.23" y2="139.29" stroke-width="1.5"/><line x1="587.43" y1="139.89" x2="594.23" y2="139.89" stroke-width="1.5"/><line x1="607.73" y1="139.29" x2="607.73" y2="139.89"/><line x1="604.33" y1="139.29" x2="611.13" y2="139.29" stroke-width="1.5"/><line x1="604.33" y1="139.89" x2="611.13" y2="139.89" stroke-width="1.5"/><line x1="624.63" y1="139.29" x2="624.63" y2="139.89"/><line x1="621.23" y1="139.29" x2="628.03" y2="139.29" stroke-width="1.5"/><line x1="621.23" y1="139.89" x2="628.03" y2="139.89" stroke-width="1.5"/><line x1="641.53" y1="139.29" x2="641.53" y2="139.89"/><line x1="638.13" y1="139.29" x2="644.93" y2="139.29" stroke-width="1.5"/><line x1="638.13" y1="139.89" x2="644.93" y2="139.89" stroke-width="1.5"/><line x1="658.43" y1="138.60" x2="658.43" y2="139.20"/><line x1="655.03" y1="138.60" x2="661.83" y2="138.60" stroke-width="1.5"/><line x1="655.03" y1="139.20" x2="661.83" y2="139.20" stroke-width="1.5"/><line x1="675.33" y1="137.12" x2="675.33" y2="137.72"/><line x1="671.93" y1="137.12" x2="678.73" y2="137.12" stroke-width="1.5"/><line x1="671.93" y1="137.72" x2="678.73" y2="137.72" stroke-width="1.5"/></g>
<path d="M523.23,135.44 L540.13,133.59 L557.03,133.59 L573.93,134.42 L590.83,133.59 L607.73,133.04 L624.63,129.62 L641.53,107.01 L658.43,49.00 L675.33,57.72" fill="none" stroke="#000000" stroke-width="1.75" stroke-linejoin="round" clip-path="url(#c2)"/><g fill="#000000" stroke="#000000" stroke-width="1.0" clip-path="url(#c2)"><circle cx="523.23" cy="135.44" r="4.60"/><circle cx="540.13" cy="133.59" r="4.60"/><circle cx="557.03" cy="133.59" r="4.60"/><circle cx="573.93" cy="134.42" r="4.60"/><circle cx="590.83" cy="133.59" r="4.60"/><circle cx="607.73" cy="133.04" r="4.60"/><circle cx="624.63" cy="129.62" r="4.60"/><circle cx="641.53" cy="107.01" r="4.60"/><circle cx="658.43" cy="49.00" r="4.60"/><circle cx="675.33" cy="57.72" r="4.60"/></g>
<path d="M523.23,129.39 L540.13,126.99 L557.03,127.17 L573.93,130.22 L590.83,127.17 L607.73,126.02 L624.63,123.99 L641.53,120.81 L658.43,102.39 L675.33,89.88" fill="none" stroke="#e69f00" stroke-width="1.75" stroke-dasharray="6.48 2.80" stroke-linejoin="round" clip-path="url(#c2)"/><g fill="#e69f00" stroke="#e69f00" stroke-width="1.0" clip-path="url(#c2)"><rect x="518.63" y="124.79" width="9.20" height="9.20"/><rect x="535.53" y="122.39" width="9.20" height="9.20"/><rect x="552.43" y="122.57" width="9.20" height="9.20"/><rect x="569.33" y="125.62" width="9.20" height="9.20"/><rect x="586.23" y="122.57" width="9.20" height="9.20"/><rect x="603.13" y="121.42" width="9.20" height="9.20"/><rect x="620.03" y="119.39" width="9.20" height="9.20"/><rect x="636.93" y="116.21" width="9.20" height="9.20"/><rect x="653.83" y="97.79" width="9.20" height="9.20"/><rect x="670.73" y="85.28" width="9.20" height="9.20"/></g>
<path d="M523.23,139.59 L540.13,139.59 L557.03,139.59 L573.93,139.59 L590.83,139.59 L607.73,139.59 L624.63,139.59 L641.53,139.59 L658.43,138.90 L675.33,137.42" fill="none" stroke="#56b4e9" stroke-width="1.75" stroke-dasharray="11.20 2.80 1.75 2.80" stroke-linejoin="round" clip-path="url(#c2)"/><g fill="#56b4e9" stroke="#56b4e9" stroke-width="1.0" clip-path="url(#c2)"><path d="M523.23,134.59 L518.23,144.59 L528.23,144.59 Z"/><path d="M540.13,134.59 L535.13,144.59 L545.13,144.59 Z"/><path d="M557.03,134.59 L552.03,144.59 L562.03,144.59 Z"/><path d="M573.93,134.59 L568.93,144.59 L578.93,144.59 Z"/><path d="M590.83,134.59 L585.83,144.59 L595.83,144.59 Z"/><path d="M607.73,134.59 L602.73,144.59 L612.73,144.59 Z"/><path d="M624.63,134.59 L619.63,144.59 L629.63,144.59 Z"/><path d="M641.53,134.59 L636.53,144.59 L646.53,144.59 Z"/><path d="M658.43,133.90 L653.43,143.90 L663.43,143.90 Z"/><path d="M675.33,132.42 L670.33,142.42 L680.33,142.42 Z"/></g>
<rect x="515.84" y="24.37" width="167.26" height="120.70" fill="none" stroke="#262626" stroke-width="1.6" stroke-linecap="square"/>
<line x1="33.66" y1="298.60" x2="39.16" y2="298.60" stroke="#262626" stroke-width="1.3"/>
<line x1="33.66" y1="286.53" x2="39.16" y2="286.53" stroke="#262626" stroke-width="1.3"/>
<line x1="33.66" y1="274.46" x2="39.16" y2="274.46" stroke="#262626" stroke-width="1.3"/>
<line x1="33.66" y1="262.39" x2="39.16" y2="262.39" stroke="#262626" stroke-width="1.3"/>
<line x1="33.66" y1="238.25" x2="39.16" y2="238.25" stroke="#262626" stroke-width="1.3"/>
<line x1="33.66" y1="226.18" x2="39.16" y2="226.18" stroke="#262626" stroke-width="1.3"/>
<line x1="33.66" y1="214.11" x2="39.16" y2="214.11" stroke="#262626" stroke-width="1.3"/>
<line x1="33.66" y1="202.04" x2="39.16" y2="202.04" stroke="#262626" stroke-width="1.3"/>
<line x1="31.16" y1="310.67" x2="39.16" y2="310.67" stroke="#262626" stroke-width="1.6"/>
<line x1="31.16" y1="250.32" x2="39.16" y2="250.32" stroke="#262626" stroke-width="1.6"/>
<line x1="31.16" y1="189.97" x2="39.16" y2="189.97" stroke="#262626" stroke-width="1.6"/>
<line x1="46.16" y1="310.67" x2="46.16" y2="316.17" stroke="#262626" stroke-width="1.3"/>
<line x1="63.06" y1="310.67" x2="63.06" y2="316.17" stroke="#262626" stroke-width="1.3"/>
<line x1="79.96" y1="310.67" x2="79.96" y2="316.17" stroke="#262626" stroke-width="1.3"/>
<line x1="96.86" y1="310.67" x2="96.86" y2="318.67" stroke="#262626" stroke-width="1.6"/>
<line x1="113.76" y1="310.67" x2="113.76" y2="316.17" stroke="#262626" stroke-width="1.3"/>
<line x1="130.66" y1="310.67" x2="130.66" y2="316.17" stroke="#262626" stroke-width="1.3"/>
<line x1="147.56" y1="310.67" x2="147.56" y2="316.17" stroke="#262626" stroke-width="1.3"/>
<line x1="164.46" y1="310.67" x2="164.46" y2="318.67" stroke="#262626" stroke-width="1.6"/>
<line x1="181.36" y1="310.67" x2="181.36" y2="316.17" stroke="#262626" stroke-width="1.3"/>
<line x1="198.26" y1="310.67" x2="198.26" y2="316.17" stroke="#262626" stroke-width="1.3"/>
<text y="316" font-size="16.75" fill="#262626"><tspan x="0.52" textLength="8.85" lengthAdjust="spacingAndGlyphs">0</tspan><tspan x="9.88" textLength="4.54" lengthAdjust="spacingAndGlyphs">.</tspan><tspan x="14.93" textLength="8.85" lengthAdjust="spacingAndGlyphs">0</tspan></text>
<text y="256" font-size="16.75" fill="#262626"><tspan x="0.52" textLength="8.85" lengthAdjust="spacingAndGlyphs">0</tspan><tspan x="9.88" textLength="4.54" lengthAdjust="spacingAndGlyphs">.</tspan><tspan x="15.12" textLength="8.35" lengthAdjust="spacingAndGlyphs">5</tspan></text>
<text y="195" font-size="16.75" fill="#262626"><tspan x="0.65" textLength="8.45" lengthAdjust="spacingAndGlyphs">1</tspan><tspan x="9.88" textLength="4.54" lengthAdjust="spacingAndGlyphs">.</tspan><tspan x="14.93" textLength="8.85" lengthAdjust="spacingAndGlyphs">0</tspan></text>
<g stroke="#000000" stroke-width="1.75" clip-path="url(#c3)"><line x1="46.16" y1="264.11" x2="46.16" y2="288.91"/><line x1="42.76" y1="264.11" x2="49.56" y2="264.11" stroke-width="1.5"/><line x1="42.76" y1="288.91" x2="49.56" y2="288.91" stroke-width="1.5"/><line x1="63.06" y1="245.37" x2="63.06" y2="293.17"/><line x1="59.66" y1="245.37" x2="66.46" y2="245.37" stroke-width="1.5"/><line x1="59.66" y1="293.17" x2="66.46" y2="293.17" stroke-width="1.5"/><line x1="79.96" y1="253.06" x2="79.96" y2="294.66"/><line x1="76.56" y1="253.06" x2="83.36" y2="253.06" stroke-width="1.5"/><line x1="76.56" y1="294.66" x2="83.36" y2="294.66" stroke-width="1.5"/><line x1="96.86" y1="251.52" x2="96.86" y2="291.12"/><line x1="93.46" y1="251.52" x2="100.26" y2="251.52" stroke-width="1.5"/><line x1="93.46" y1="291.12" x2="100.26" y2="291.12" stroke-width="1.5"/><line x1="113.76" y1="278.50" x2="113.76" y2="282.50"/><line x1="110.36" y1="278.50" x2="117.16" y2="278.50" stroke-width="1.5"/><line x1="110.36" y1="282.50" x2="117.16" y2="282.50" stroke-width="1.5"/><line x1="130.66" y1="254.42" x2="130.66" y2="294.02"/><line x1="127.26" y1="254.42" x2="134.06" y2="254.42" stroke-width="1.5"/><line x1="127.26" y1="294.02" x2="134.06" y2="294.02" stroke-width="1.5"/><line x1="147.56" y1="214.41" x2="147.56" y2="282.61"/><line x1="144.16" y1="214.41" x2="150.96" y2="214.41" stroke-width="1.5"/><line x1="144.16" y1="282.61" x2="150.96" y2="282.61" stroke-width="1.5"/><line x1="164.46" y1="197.63" x2="164.46" y2="216.83"/><line x1="161.06" y1="197.63" x2="167.86" y2="197.63" stroke-width="1.5"/><line x1="161.06" y1="216.83" x2="167.86" y2="216.83" stroke-width="1.5"/><line x1="181.36" y1="194.19" x2="181.36" y2="239.59"/><line x1="177.96" y1="194.19" x2="184.76" y2="194.19" stroke-width="1.5"/><line x1="177.96" y1="239.59" x2="184.76" y2="239.59" stroke-width="1.5"/><line x1="198.26" y1="198.63" x2="198.26" y2="210.03"/><line x1="194.86" y1="198.63" x2="201.66" y2="198.63" stroke-width="1.5"/><line x1="194.86" y1="210.03" x2="201.66" y2="210.03" stroke-width="1.5"/></g>
<g stroke="#e69f00" stroke-width="1.75" clip-path="url(#c3)"><line x1="46.16" y1="205.68" x2="46.16" y2="211.68"/><line x1="42.76" y1="205.68" x2="49.56" y2="205.68" stroke-width="1.5"/><line x1="42.76" y1="211.68" x2="49.56" y2="211.68" stroke-width="1.5"/><line x1="63.06" y1="199.99" x2="63.06" y2="213.99"/><line x1="59.66" y1="199.99" x2="66.46" y2="199.99" stroke-width="1.5"/><line x1="59.66" y1="213.99" x2="66.46" y2="213.99" stroke-width="1.5"/><line x1="79.96" y1="197.21" x2="79.96" y2="211.21"/><line x1="76.56" y1="197.21" x2="83.36" y2="197.21" stroke-width="1.5"/><line x1="76.56" y1="211.21" x2="83.36" y2="211.21" stroke-width="1.5"/><line x1="96.86" y1="199.16" x2="96.86" y2="205.16"/><line x1="93.46" y1="199.16" x2="100.26" y2="199.16" stroke-width="1.5"/><line x1="93.46" y1="205.16" x2="100.26" y2="205.16" stroke-width="1.5"/><line x1="113.76" y1="196.06" x2="113.76" y2="200.06"/><line x1="110.36" y1="196.06" x2="117.16" y2="196.06" stroke-width="1.5"/><line x1="110.36" y1="200.06" x2="117.16" y2="200.06" stroke-width="1.5"/><line x1="130.66" y1="202.18" x2="130.66" y2="208.18"/><line x1="127.26" y1="202.18" x2="134.06" y2="202.18" stroke-width="1.5"/><line x1="127.26" y1="208.18" x2="134.06" y2="208.18" stroke-width="1.5"/><line x1="147.56" y1="196.87" x2="147.56" y2="202.87"/><line x1="144.16" y1="196.87" x2="150.96" y2="196.87" stroke-width="1.5"/><line x1="144.16" y1="202.87" x2="150.96" y2="202.87" stroke-width="1.5"/><line x1="164.46" y1="195.42" x2="164.46" y2="201.42"/><line x1="161.06" y1="195.42" x2="167.86" y2="195.42" stroke-width="1.5"/><line x1="161.06" y1="201.42" x2="167.86" y2="201.42" stroke-width="1.5"/><line x1="181.36" y1="195.06" x2="181.36" y2="201.06"/><line x1="177.96" y1="195.06" x2="184.76" y2="195.06" stroke-width="1.5"/><line x1="177.96" y1="201.06" x2="184.76" y2="201.06" stroke-width="1.5"/><line x1="198.26" y1="193.61" x2="198.26" y2="199.61"/><line x1="194.86" y1="193.61" x2="201.66" y2="193.61" stroke-width="1.5"/><line x1="194.86" y1="199.61" x2="201.66" y2="199.61" stroke-width="1.5"/></g>
<g stroke="#56b4e9" stroke-width="1.75" clip-path="url(#c3)"><line x1="46.16" y1="200.59" x2="46.16" y2="213.39"/><line x1="42.76" y1="200.59" x2="49.56" y2="200.59" stroke-width="1.5"/><line x1="42.76" y1="213.39" x2="49.56" y2="213.39" stroke-width="1.5"/><line x1="63.06" y1="202.58" x2="63.06" y2="203.18"/><line x1="59.66" y1="202.58" x2="66.46" y2="202.58" stroke-width="1.5"/><line x1="59.66" y1="203.18" x2="66.46" y2="203.18" stroke-width="1.5"/><line x1="79.96" y1="198.12" x2="79.96" y2="198.72"/><line x1="76.56" y1="198.12" x2="83.36" y2="198.12" stroke-width="1.5"/><line x1="76.56" y1="198.72" x2="83.36" y2="198.72" stroke-width="1.5"/><line x1="96.86" y1="199.93" x2="96.86" y2="200.53"/><line x1="93.46" y1="199.93" x2="100.26" y2="199.93" stroke-width="1.5"/><line x1="93.46" y1="200.53" x2="100.26" y2="200.53" stroke-width="1.5"/><line x1="113.76" y1="199.08" x2="113.76" y2="199.68"/><line x1="110.36" y1="199.08" x2="117.16" y2="199.08" stroke-width="1.5"/><line x1="110.36" y1="199.68" x2="117.16" y2="199.68" stroke-width="1.5"/><line x1="130.66" y1="199.33" x2="130.66" y2="199.93"/><line x1="127.26" y1="199.33" x2="134.06" y2="199.33" stroke-width="1.5"/><line x1="127.26" y1="199.93" x2="134.06" y2="199.93" stroke-width="1.5"/><line x1="147.56" y1="196.91" x2="147.56" y2="197.51"/><line x1="144.16" y1="196.91" x2="150.96" y2="196.91" stroke-width="1.5"/><line x1="144.16" y1="197.51" x2="150.96" y2="197.51" stroke-width="1.5"/><line x1="164.46" y1="198.72" x2="164.46" y2="199.32"/><line x1="161.06" y1="198.72" x2="167.86" y2="198.72" stroke-width="1.5"/><line x1="161.06" y1="199.32" x2="167.86" y2="199.32" stroke-width="1.5"/><line x1="181.36" y1="198.36" x2="181.36" y2="198.96"/><line x1="177.96" y1="198.36" x2="184.76" y2="198.36" stroke-width="1.5"/><line x1="177.96" y1="198.96" x2="184.76" y2="198.96" stroke-width="1.5"/><line x1="198.26" y1="196.91" x2="198.26" y2="197.51"/><line x1="194.86" y1="196.91" x2="201.66" y2="196.91" stroke-width="1.5"/><line x1="194.86" y1="197.51" x2="201.66" y2="197.51" stroke-width="1.5"/></g>
<path d="M46.16,276.51 L63.06,269.27 L79.96,273.86 L96.86,271.32 L113.76,280.50 L130.66,274.22 L147.56,248.51 L164.46,207.23 L181.36,216.89 L198.26,204.33" fill="none" stroke="#000000" stroke-width="1.75" stroke-linejoin="round" clip-path="url(#c3)"/><g fill="#000000" stroke="#000000" stroke-width="1.0" clip-path="url(#c3)"><circle cx="46.16" cy="276.51" r="4.60"/><circle cx="63.06" cy="269.27" r="4.60"/><circle cx="79.96" cy="273.86" r="4.60"/><circle cx="96.86" cy="271.32" r="4.60"/><circle cx="113.76" cy="280.50" r="4.60"/><circle cx="130.66" cy="274.22" r="4.60"/><circle cx="147.56" cy="248.51" r="4.60"/><circle cx="164.46" cy="207.23" r="4.60"/><circle cx="181.36" cy="216.89" r="4.60"/><circle cx="198.26" cy="204.33" r="4.60"/></g>
<path d="M46.16,208.68 L63.06,206.99 L79.96,204.21 L96.86,202.16 L113.76,198.06 L130.66,205.18 L147.56,199.87 L164.46,198.42 L181.36,198.06 L198.26,196.61" fill="none" stroke="#e69f00" stroke-width="1.75" stroke-dasharray="6.48 2.80" stroke-linejoin="round" clip-path="url(#c3)"/><g fill="#e69f00" stroke="#e69f00" stroke-width="1.0" clip-path="url(#c3)"><rect x="41.56" y="204.08" width="9.20" height="9.20"/><rect x="58.46" y="202.39" width="9.20" height="9.20"/><rect x="75.36" y="199.61" width="9.20" height="9.20"/><rect x="92.26" y="197.56" width="9.20" height="9.20"/><rect x="109.16" y="193.46" width="9.20" height="9.20"/><rect x="126.06" y="200.58" width="9.20" height="9.20"/><rect x="142.96" y="195.27" width="9.20" height="9.20"/><rect x="159.86" y="193.82" width="9.20" height="9.20"/><rect x="176.76" y="193.46" width="9.20" height="9.20"/><rect x="193.66" y="192.01" width="9.20" height="9.20"/></g>
<path d="M46.16,206.99 L63.06,202.88 L79.96,198.42 L96.86,200.23 L113.76,199.38 L130.66,199.63 L147.56,197.21 L164.46,199.02 L181.36,198.66 L198.26,197.21" fill="none" stroke="#56b4e9" stroke-width="1.75" stroke-dasharray="11.20 2.80 1.75 2.80" stroke-linejoin="round" clip-path="url(#c3)"/><g fill="#56b4e9" stroke="#56b4e9" stroke-width="1.0" clip-path="url(#c3)"><path d="M46.16,201.99 L41.16,211.99 L51.16,211.99 Z"/><path d="M63.06,197.88 L58.06,207.88 L68.06,207.88 Z"/><path d="M79.96,193.42 L74.96,203.42 L84.96,203.42 Z"/><path d="M96.86,195.23 L91.86,205.23 L101.86,205.23 Z"/><path d="M113.76,194.38 L108.76,204.38 L118.76,204.38 Z"/><path d="M130.66,194.63 L125.66,204.63 L135.66,204.63 Z"/><path d="M147.56,192.21 L142.56,202.21 L152.56,202.21 Z"/><path d="M164.46,194.02 L159.46,204.02 L169.46,204.02 Z"/><path d="M181.36,193.66 L176.36,203.66 L186.36,203.66 Z"/><path d="M198.26,192.21 L193.26,202.21 L203.26,202.21 Z"/></g>
<rect x="39.16" y="189.97" width="166.79" height="120.70" fill="none" stroke="#262626" stroke-width="1.6" stroke-linecap="square"/>
<line x1="271.62" y1="298.60" x2="277.12" y2="298.60" stroke="#262626" stroke-width="1.3"/>
<line x1="271.62" y1="286.53" x2="277.12" y2="286.53" stroke="#262626" stroke-width="1.3"/>
<line x1="271.62" y1="274.46" x2="277.12" y2="274.46" stroke="#262626" stroke-width="1.3"/>
<line x1="271.62" y1="262.39" x2="277.12" y2="262.39" stroke="#262626" stroke-width="1.3"/>
<line x1="271.62" y1="238.25" x2="277.12" y2="238.25" stroke="#262626" stroke-width="1.3"/>
<line x1="271.62" y1="226.18" x2="277.12" y2="226.18" stroke="#262626" stroke-width="1.3"/>
<line x1="271.62" y1="214.11" x2="277.12" y2="214.11" stroke="#262626" stroke-width="1.3"/>
<line x1="271.62" y1="202.04" x2="277.12" y2="202.04" stroke="#262626" stroke-width="1.3"/>
<line x1="269.12" y1="310.67" x2="277.12" y2="310.67" stroke="#262626" stroke-width="1.6"/>
<line x1="269.12" y1="250.32" x2="277.12" y2="250.32" stroke="#262626" stroke-width="1.6"/>
<line x1="269.12" y1="189.97" x2="277.12" y2="189.97" stroke="#262626" stroke-width="1.6"/>
<line x1="284.55" y1="310.67" x2="284.55" y2="316.17" stroke="#262626" stroke-width="1.3"/>
<line x1="301.45" y1="310.67" x2="301.45" y2="316.17" stroke="#262626" stroke-width="1.3"/>
<line x1="318.35" y1="310.67" x2="318.35" y2="316.17" stroke="#262626" stroke-width="1.3"/>
<line x1="335.25" y1="310.67" x2="335.25" y2="318.67" stroke="#262626" stroke-width="1.6"/>
<line x1="352.15" y1="310.67" x2="352.15" y2="316.17" stroke="#262626" stroke-width="1.3"/>
<line x1="369.05" y1="310.67" x2="369.05" y2="316.17" stroke="#262626" stroke-width="1.3"/>
<line x1="385.95" y1="310.67" x2="385.95" y2="316.17" stroke="#262626" stroke-width="1.3"/>
<line x1="402.85" y1="310.67" x2="402.85" y2="318.67" stroke="#262626" stroke-width="1.6"/>
<line x1="419.75" y1="310.67" x2="419.75" y2="316.17" stroke="#262626" stroke-width="1.3"/>
<line x1="436.65" y1="310.67" x2="436.65" y2="316.17" stroke="#262626" stroke-width="1.3"/>
<text y="316" font-size="16.75" fill="#262626"><tspan x="238.48" textLength="8.85" lengthAdjust="spacingAndGlyphs">0</tspan><tspan x="247.84" textLength="4.54" lengthAdjust="spacingAndGlyphs">.</tspan><tspan x="252.89" textLength="8.85" lengthAdjust="spacingAndGlyphs">0</tspan></text>
<text y="256" font-size="16.75" fill="#262626"><tspan x="238.48" textLength="8.85" lengthAdjust="spacingAndGlyphs">0</tspan><tspan x="247.84" textLength="4.54" lengthAdjust="spacingAndGlyphs">.</tspan><tspan x="253.08" textLength="8.35" lengthAdjust="spacingAndGlyphs">5</tspan></text>
<text y="195" font-size="16.75" fill="#262626"><tspan x="238.61" textLength="8.45" lengthAdjust="spacingAndGlyphs">1</tspan><tspan x="247.84" textLength="4.54" lengthAdjust="spacingAndGlyphs">.</tspan><tspan x="252.89" textLength="8.85" lengthAdjust="spacingAndGlyphs">0</tspan></text>
<g stroke="#000000" stroke-width="1.75" clip-path="url(#c4)"><line x1="284.55" y1="248.20" x2="284.55" y2="252.20"/><line x1="281.15" y1="248.20" x2="287.95" y2="248.20" stroke-width="1.5"/><line x1="281.15" y1="252.20" x2="287.95" y2="252.20" stroke-width="1.5"/><line x1="301.45" y1="244.79" x2="301.45" y2="253.19"/><line x1="298.05" y1="244.79" x2="304.85" y2="244.79" stroke-width="1.5"/><line x1="298.05" y1="253.19" x2="304.85" y2="253.19" stroke-width="1.5"/><line x1="318.35" y1="240.97" x2="318.35" y2="255.57"/><line x1="314.95" y1="240.97" x2="321.75" y2="240.97" stroke-width="1.5"/><line x1="314.95" y1="255.57" x2="321.75" y2="255.57" stroke-width="1.5"/><line x1="335.25" y1="247.72" x2="335.25" y2="251.72"/><line x1="331.85" y1="247.72" x2="338.65" y2="247.72" stroke-width="1.5"/><line x1="331.85" y1="251.72" x2="338.65" y2="251.72" stroke-width="1.5"/><line x1="352.15" y1="248.20" x2="352.15" y2="252.20"/><line x1="348.75" y1="248.20" x2="355.55" y2="248.20" stroke-width="1.5"/><line x1="348.75" y1="252.20" x2="355.55" y2="252.20" stroke-width="1.5"/><line x1="369.05" y1="243.43" x2="369.05" y2="253.83"/><line x1="365.65" y1="243.43" x2="372.45" y2="243.43" stroke-width="1.5"/><line x1="365.65" y1="253.83" x2="372.45" y2="253.83" stroke-width="1.5"/><line x1="385.95" y1="227.95" x2="385.95" y2="254.35"/><line x1="382.55" y1="227.95" x2="389.35" y2="227.95" stroke-width="1.5"/><line x1="382.55" y1="254.35" x2="389.35" y2="254.35" stroke-width="1.5"/><line x1="402.85" y1="198.22" x2="402.85" y2="234.82"/><line x1="399.45" y1="198.22" x2="406.25" y2="198.22" stroke-width="1.5"/><line x1="399.45" y1="234.82" x2="406.25" y2="234.82" stroke-width="1.5"/><line x1="419.75" y1="209.88" x2="419.75" y2="234.28"/><line x1="416.35" y1="209.88" x2="423.15" y2="209.88" stroke-width="1.5"/><line x1="416.35" y1="234.28" x2="423.15" y2="234.28" stroke-width="1.5"/><line x1="436.65" y1="194.13" x2="436.65" y2="220.33"/><line x1="433.25" y1="194.13" x2="440.05" y2="194.13" stroke-width="1.5"/><line x1="433.25" y1="220.33" x2="440.05" y2="220.33" stroke-width="1.5"/></g>
<g stroke="#e69f00" stroke-width="1.75" clip-path="url(#c4)"><line x1="284.55" y1="205.19" x2="284.55" y2="216.99"/><line x1="281.15" y1="205.19" x2="287.95" y2="205.19" stroke-width="1.5"/><line x1="281.15" y1="216.99" x2="287.95" y2="216.99" stroke-width="1.5"/><line x1="301.45" y1="197.28" x2="301.45" y2="228.28"/><line x1="298.05" y1="197.28" x2="304.85" y2="197.28" stroke-width="1.5"/><line x1="298.05" y1="228.28" x2="304.85" y2="228.28" stroke-width="1.5"/><line x1="318.35" y1="198.42" x2="318.35" y2="212.42"/><line x1="314.95" y1="198.42" x2="321.75" y2="198.42" stroke-width="1.5"/><line x1="314.95" y1="212.42" x2="321.75" y2="212.42" stroke-width="1.5"/><line x1="335.25" y1="200.25" x2="335.25" y2="206.25"/><line x1="331.85" y1="200.25" x2="338.65" y2="200.25" stroke-width="1.5"/><line x1="331.85" y1="206.25" x2="338.65" y2="206.25" stroke-width="1.5"/><line x1="352.15" y1="196.30" x2="352.15" y2="200.30"/><line x1="348.75" y1="196.30" x2="355.55" y2="196.30" stroke-width="1.5"/><line x1="348.75" y1="200.30" x2="355.55" y2="200.30" stroke-width="1.5"/><line x1="369.05" y1="196.65" x2="369.05" y2="218.05"/><line x1="365.65" y1="196.65" x2="372.45" y2="196.65" stroke-width="1.5"/><line x1="365.65" y1="218.05" x2="372.45" y2="218.05" stroke-width="1.5"/><line x1="385.95" y1="196.52" x2="385.95" y2="208.52"/><line x1="382.55" y1="196.52" x2="389.35" y2="196.52" stroke-width="1.5"/><line x1="382.55" y1="208.52" x2="389.35" y2="208.52" stroke-width="1.5"/><line x1="402.85" y1="192.71" x2="402.85" y2="207.51"/><line x1="399.45" y1="192.71" x2="406.25" y2="192.71" stroke-width="1.5"/><line x1="399.45" y1="207.51" x2="406.25" y2="207.51" stroke-width="1.5"/><line x1="419.75" y1="195.30" x2="419.75" y2="201.30"/><line x1="416.35" y1="195.30" x2="423.15" y2="195.30" stroke-width="1.5"/><line x1="416.35" y1="201.30" x2="423.15" y2="201.30" stroke-width="1.5"/><line x1="436.65" y1="193.49" x2="436.65" y2="199.49"/><line x1="433.25" y1="193.49" x2="440.05" y2="193.49" stroke-width="1.5"/><line x1="433.25" y1="199.49" x2="440.05" y2="199.49" stroke-width="1.5"/></g>
<g stroke="#56b4e9" stroke-width="1.75" clip-path="url(#c4)"><line x1="284.55" y1="201.29" x2="284.55" y2="211.49"/><line x1="281.15" y1="201.29" x2="287.95" y2="201.29" stroke-width="1.5"/><line x1="281.15" y1="211.49" x2="287.95" y2="211.49" stroke-width="1.5"/><line x1="301.45" y1="202.95" x2="301.45" y2="203.55"/><line x1="298.05" y1="202.95" x2="304.85" y2="202.95" stroke-width="1.5"/><line x1="298.05" y1="203.55" x2="304.85" y2="203.55" stroke-width="1.5"/><line x1="318.35" y1="198.72" x2="318.35" y2="199.32"/><line x1="314.95" y1="198.72" x2="321.75" y2="198.72" stroke-width="1.5"/><line x1="314.95" y1="199.32" x2="321.75" y2="199.32" stroke-width="1.5"/><line x1="335.25" y1="199.93" x2="335.25" y2="200.53"/><line x1="331.85" y1="199.93" x2="338.65" y2="199.93" stroke-width="1.5"/><line x1="331.85" y1="200.53" x2="338.65" y2="200.53" stroke-width="1.5"/><line x1="352.15" y1="199.45" x2="352.15" y2="200.05"/><line x1="348.75" y1="199.45" x2="355.55" y2="199.45" stroke-width="1.5"/><line x1="348.75" y1="200.05" x2="355.55" y2="200.05" stroke-width="1.5"/><line x1="369.05" y1="199.57" x2="369.05" y2="200.17"/><line x1="365.65" y1="199.57" x2="372.45" y2="199.57" stroke-width="1.5"/><line x1="365.65" y1="200.17" x2="372.45" y2="200.17" stroke-width="1.5"/><line x1="385.95" y1="196.91" x2="385.95" y2="197.51"/><line x1="382.55" y1="196.91" x2="389.35" y2="196.91" stroke-width="1.5"/><line x1="382.55" y1="197.51" x2="389.35" y2="197.51" stroke-width="1.5"/><line x1="402.85" y1="199.21" x2="402.85" y2="199.81"/><line x1="399.45" y1="199.21" x2="406.25" y2="199.21" stroke-width="1.5"/><line x1="399.45" y1="199.81" x2="406.25" y2="199.81" stroke-width="1.5"/><line x1="419.75" y1="198.84" x2="419.75" y2="199.44"/><line x1="416.35" y1="198.84" x2="423.15" y2="198.84" stroke-width="1.5"/><line x1="416.35" y1="199.44" x2="423.15" y2="199.44" stroke-width="1.5"/><line x1="436.65" y1="196.43" x2="436.65" y2="197.03"/><line x1="433.25" y1="196.43" x2="440.05" y2="196.43" stroke-width="1.5"/><line x1="433.25" y1="197.03" x2="440.05" y2="197.03" stroke-width="1.5"/></g>
<path d="M284.55,250.20 L301.45,248.99 L318.35,248.27 L335.25,249.72 L352.15,250.20 L369.05,248.63 L385.95,241.15 L402.85,216.52 L419.75,222.08 L436.65,207.23" fill="none" stroke="#000000" stroke-width="1.75" stroke-linejoin="round" clip-path="url(#c4)"/><g fill="#000000" stroke="#000000" stroke-width="1.0" clip-path="url(#c4)"><circle cx="284.55" cy="250.20" r="4.60"/><circle cx="301.45" cy="248.99" r="4.60"/><circle cx="318.35" cy="248.27" r="4.60"/><circle cx="335.25" cy="249.72" r="4.60"/><circle cx="352.15" cy="250.20" r="4.60"/><circle cx="369.05" cy="248.63" r="4.60"/><circle cx="385.95" cy="241.15" r="4.60"/><circle cx="402.85" cy="216.52" r="4.60"/><circle cx="419.75" cy="222.08" r="4.60"/><circle cx="436.65" cy="207.23" r="4.60"/></g>
<path d="M284.55,211.09 L301.45,212.78 L318.35,205.42 L335.25,203.25 L352.15,198.30 L369.05,207.35 L385.95,202.52 L402.85,200.11 L419.75,198.30 L436.65,196.49" fill="none" stroke="#e69f00" stroke-width="1.75" stroke-dasharray="6.48 2.80" stroke-linejoin="round" clip-path="url(#c4)"/><g fill="#e69f00" stroke="#e69f00" stroke-width="1.0" clip-path="url(#c4)"><rect x="279.95" y="206.49" width="9.20" height="9.20"/><rect x="296.85" y="208.18" width="9.20" height="9.20"/><rect x="313.75" y="200.82" width="9.20" height="9.20"/><rect x="330.65" y="198.65" width="9.20" height="9.20"/><rect x="347.55" y="193.70" width="9.20" height="9.20"/><rect x="364.45" y="202.75" width="9.20" height="9.20"/><rect x="381.35" y="197.92" width="9.20" height="9.20"/><rect x="398.25" y="195.51" width="9.20" height="9.20"/><rect x="415.15" y="193.70" width="9.20" height="9.20"/><rect x="432.05" y="191.89" width="9.20" height="9.20"/></g>
<path d="M284.55,206.39 L301.45,203.25 L318.35,199.02 L335.25,200.23 L352.15,199.75 L369.05,199.87 L385.95,197.21 L402.85,199.51 L419.75,199.14 L436.65,196.73" fill="none" stroke="#56b4e9" stroke-width="1.75" stroke-dasharray="11.20 2.80 1.75 2.80" stroke-linejoin="round" clip-path="url(#c4)"/><g fill="#56b4e9" stroke="#56b4e9" stroke-width="1.0" clip-path="url(#c4)"><path d="M284.55,201.39 L279.55,211.39 L289.55,211.39 Z"/><path d="M301.45,198.25 L296.45,208.25 L306.45,208.25 Z"/><path d="M318.35,194.02 L313.35,204.02 L323.35,204.02 Z"/><path d="M335.25,195.23 L330.25,205.23 L340.25,205.23 Z"/><path d="M352.15,194.75 L347.15,204.75 L357.15,204.75 Z"/><path d="M369.05,194.87 L364.05,204.87 L374.05,204.87 Z"/><path d="M385.95,192.21 L380.95,202.21 L390.95,202.21 Z"/><path d="M402.85,194.51 L397.85,204.51 L407.85,204.51 Z"/><path d="M419.75,194.14 L414.75,204.14 L424.75,204.14 Z"/><path d="M436.65,191.73 L431.65,201.73 L441.65,201.73 Z"/></g>
<rect x="277.12" y="189.97" width="167.61" height="120.70" fill="none" stroke="#262626" stroke-width="1.6" stroke-linecap="square"/>
<line x1="510.34" y1="302.62" x2="515.84" y2="302.62" stroke="#262626" stroke-width="1.3"/>
<line x1="510.34" y1="294.58" x2="515.84" y2="294.58" stroke="#262626" stroke-width="1.3"/>
<line x1="510.34" y1="286.53" x2="515.84" y2="286.53" stroke="#262626" stroke-width="1.3"/>
<line x1="510.34" y1="278.48" x2="515.84" y2="278.48" stroke="#262626" stroke-width="1.3"/>
<line x1="510.34" y1="262.39" x2="515.84" y2="262.39" stroke="#262626" stroke-width="1.3"/>
<line x1="510.34" y1="254.34" x2="515.84" y2="254.34" stroke="#262626" stroke-width="1.3"/>
<line x1="510.34" y1="246.30" x2="515.84" y2="246.30" stroke="#262626" stroke-width="1.3"/>
<line x1="510.34" y1="238.25" x2="515.84" y2="238.25" stroke="#262626" stroke-width="1.3"/>
<line x1="510.34" y1="222.16" x2="515.84" y2="222.16" stroke="#262626" stroke-width="1.3"/>
<line x1="510.34" y1="214.11" x2="515.84" y2="214.11" stroke="#262626" stroke-width="1.3"/>
<line x1="510.34" y1="206.06" x2="515.84" y2="206.06" stroke="#262626" stroke-width="1.3"/>
<line x1="510.34" y1="198.02" x2="515.84" y2="198.02" stroke="#262626" stroke-width="1.3"/>
<line x1="507.84" y1="310.67" x2="515.84" y2="310.67" stroke="#262626" stroke-width="1.6"/>
<line x1="507.84" y1="270.44" x2="515.84" y2="270.44" stroke="#262626" stroke-width="1.6"/>
<line x1="507.84" y1="230.20" x2="515.84" y2="230.20" stroke="#262626" stroke-width="1.6"/>
<line x1="507.84" y1="189.97" x2="515.84" y2="189.97" stroke="#262626" stroke-width="1.6"/>
<line x1="523.23" y1="310.67" x2="523.23" y2="316.17" stroke="#262626" stroke-width="1.3"/>
<line x1="540.13" y1="310.67" x2="540.13" y2="316.17" stroke="#262626" stroke-width="1.3"/>
<line x1="557.03" y1="310.67" x2="557.03" y2="316.17" stroke="#262626" stroke-width="1.3"/>
<line x1="573.93" y1="310.67" x2="573.93" y2="318.67" stroke="#262626" stroke-width="1.6"/>
<line x1="590.83" y1="310.67" x2="590.83" y2="316.17" stroke="#262626" stroke-width="1.3"/>
<line x1="607.73" y1="310.67" x2="607.73" y2="316.17" stroke="#262626" stroke-width="1.3"/>
<line x1="624.63" y1="310.67" x2="624.63" y2="316.17" stroke="#262626" stroke-width="1.3"/>
<line x1="641.53" y1="310.67" x2="641.53" y2="318.67" stroke="#262626" stroke-width="1.6"/>
<line x1="658.43" y1="310.67" x2="658.43" y2="316.17" stroke="#262626" stroke-width="1.3"/>
<line x1="675.33" y1="310.67" x2="675.33" y2="316.17" stroke="#262626" stroke-width="1.3"/>
<text y="316" font-size="16.75" fill="#262626"><tspan x="491.61" textLength="8.85" lengthAdjust="spacingAndGlyphs">0</tspan></text>
<text y="276" font-size="16.75" fill="#262626"><tspan x="482.13" textLength="8.45" lengthAdjust="spacingAndGlyphs">1</tspan><tspan x="491.61" textLength="8.85" lengthAdjust="spacingAndGlyphs">0</tspan></text>
<text y="236" font-size="16.75" fill="#262626"><tspan x="481.96" textLength="8.53" lengthAdjust="spacingAndGlyphs">2</tspan><tspan x="491.61" textLength="8.85" lengthAdjust="spacingAndGlyphs">0</tspan></text>
<text y="195" font-size="16.75" fill="#262626"><tspan x="482.19" textLength="8.50" lengthAdjust="spacingAndGlyphs">3</tspan><tspan x="491.61" textLength="8.85" lengthAdjust="spacingAndGlyphs">0</tspan></text>
<g stroke="#000000" stroke-width="1.75" clip-path="url(#c5)"><line x1="523.23" y1="259.80" x2="523.23" y2="269.40"/><line x1="519.83" y1="259.80" x2="526.63" y2="259.80" stroke-width="1.5"/><line x1="519.83" y1="269.40" x2="526.63" y2="269.40" stroke-width="1.5"/><line x1="540.13" y1="267.30" x2="540.13" y2="269.30"/><line x1="536.73" y1="267.30" x2="543.53" y2="267.30" stroke-width="1.5"/><line x1="536.73" y1="269.30" x2="543.53" y2="269.30" stroke-width="1.5"/><line x1="557.03" y1="265.82" x2="557.03" y2="267.82"/><line x1="553.63" y1="265.82" x2="560.43" y2="265.82" stroke-width="1.5"/><line x1="553.63" y1="267.82" x2="560.43" y2="267.82" stroke-width="1.5"/><line x1="573.93" y1="266.38" x2="573.93" y2="268.38"/><line x1="570.53" y1="266.38" x2="577.33" y2="266.38" stroke-width="1.5"/><line x1="570.53" y1="268.38" x2="577.33" y2="268.38" stroke-width="1.5"/><line x1="590.83" y1="269.52" x2="590.83" y2="271.52"/><line x1="587.43" y1="269.52" x2="594.23" y2="269.52" stroke-width="1.5"/><line x1="587.43" y1="271.52" x2="594.23" y2="271.52" stroke-width="1.5"/><line x1="607.73" y1="266.10" x2="607.73" y2="268.10"/><line x1="604.33" y1="266.10" x2="611.13" y2="266.10" stroke-width="1.5"/><line x1="604.33" y1="268.10" x2="611.13" y2="268.10" stroke-width="1.5"/><line x1="624.63" y1="268.79" x2="624.63" y2="270.79"/><line x1="621.23" y1="268.79" x2="628.03" y2="268.79" stroke-width="1.5"/><line x1="621.23" y1="270.79" x2="628.03" y2="270.79" stroke-width="1.5"/><line x1="641.53" y1="269.84" x2="641.53" y2="271.84"/><line x1="638.13" y1="269.84" x2="644.93" y2="269.84" stroke-width="1.5"/><line x1="638.13" y1="271.84" x2="644.93" y2="271.84" stroke-width="1.5"/><line x1="658.43" y1="268.63" x2="658.43" y2="270.63"/><line x1="655.03" y1="268.63" x2="661.83" y2="268.63" stroke-width="1.5"/><line x1="655.03" y1="270.63" x2="661.83" y2="270.63" stroke-width="1.5"/><line x1="675.33" y1="270.32" x2="675.33" y2="272.32"/><line x1="671.93" y1="270.32" x2="678.73" y2="270.32" stroke-width="1.5"/><line x1="671.93" y1="272.32" x2="678.73" y2="272.32" stroke-width="1.5"/></g>
<g stroke="#e69f00" stroke-width="1.75" clip-path="url(#c5)"><line x1="523.23" y1="198.85" x2="523.23" y2="207.65"/><line x1="519.83" y1="198.85" x2="526.63" y2="198.85" stroke-width="1.5"/><line x1="519.83" y1="207.65" x2="526.63" y2="207.65" stroke-width="1.5"/><line x1="540.13" y1="204.87" x2="540.13" y2="208.87"/><line x1="536.73" y1="204.87" x2="543.53" y2="204.87" stroke-width="1.5"/><line x1="536.73" y1="208.87" x2="543.53" y2="208.87" stroke-width="1.5"/><line x1="557.03" y1="210.10" x2="557.03" y2="214.10"/><line x1="553.63" y1="210.10" x2="560.43" y2="210.10" stroke-width="1.5"/><line x1="553.63" y1="214.10" x2="560.43" y2="214.10" stroke-width="1.5"/><line x1="573.93" y1="209.70" x2="573.93" y2="213.70"/><line x1="570.53" y1="209.70" x2="577.33" y2="209.70" stroke-width="1.5"/><line x1="570.53" y1="213.70" x2="577.33" y2="213.70" stroke-width="1.5"/><line x1="590.83" y1="216.33" x2="590.83" y2="220.33"/><line x1="587.43" y1="216.33" x2="594.23" y2="216.33" stroke-width="1.5"/><line x1="587.43" y1="220.33" x2="594.23" y2="220.33" stroke-width="1.5"/><line x1="607.73" y1="211.83" x2="607.73" y2="215.83"/><line x1="604.33" y1="211.83" x2="611.13" y2="211.83" stroke-width="1.5"/><line x1="604.33" y1="215.83" x2="611.13" y2="215.83" stroke-width="1.5"/><line x1="624.63" y1="206.90" x2="624.63" y2="217.30"/><line x1="621.23" y1="206.90" x2="628.03" y2="206.90" stroke-width="1.5"/><line x1="621.23" y1="217.30" x2="628.03" y2="217.30" stroke-width="1.5"/><line x1="641.53" y1="208.61" x2="641.53" y2="212.61"/><line x1="638.13" y1="208.61" x2="644.93" y2="208.61" stroke-width="1.5"/><line x1="638.13" y1="212.61" x2="644.93" y2="212.61" stroke-width="1.5"/><line x1="658.43" y1="210.11" x2="658.43" y2="219.71"/><line x1="655.03" y1="210.11" x2="661.83" y2="210.11" stroke-width="1.5"/><line x1="655.03" y1="219.71" x2="661.83" y2="219.71" stroke-width="1.5"/><line x1="675.33" y1="212.51" x2="675.33" y2="216.51"/><line x1="671.93" y1="212.51" x2="678.73" y2="212.51" stroke-width="1.5"/><line x1="671.93" y1="216.51" x2="678.73" y2="216.51" stroke-width="1.5"/></g>
<g stroke="#56b4e9" stroke-width="1.75" clip-path="url(#c5)"><line x1="523.23" y1="288.02" x2="523.23" y2="288.42"/><line x1="519.83" y1="288.02" x2="526.63" y2="288.02" stroke-width="1.5"/><line x1="519.83" y1="288.42" x2="526.63" y2="288.42" stroke-width="1.5"/><line x1="540.13" y1="288.42" x2="540.13" y2="288.82"/><line x1="536.73" y1="288.42" x2="543.53" y2="288.42" stroke-width="1.5"/><line x1="536.73" y1="288.82" x2="543.53" y2="288.82" stroke-width="1.5"/><line x1="557.03" y1="286.53" x2="557.03" y2="286.93"/><line x1="553.63" y1="286.53" x2="560.43" y2="286.53" stroke-width="1.5"/><line x1="553.63" y1="286.93" x2="560.43" y2="286.93" stroke-width="1.5"/><line x1="573.93" y1="280.62" x2="573.93" y2="281.02"/><line x1="570.53" y1="280.62" x2="577.33" y2="280.62" stroke-width="1.5"/><line x1="570.53" y1="281.02" x2="577.33" y2="281.02" stroke-width="1.5"/><line x1="590.83" y1="281.30" x2="590.83" y2="281.70"/><line x1="587.43" y1="281.30" x2="594.23" y2="281.30" stroke-width="1.5"/><line x1="587.43" y1="281.70" x2="594.23" y2="281.70" stroke-width="1.5"/><line x1="607.73" y1="281.30" x2="607.73" y2="281.70"/><line x1="604.33" y1="281.30" x2="611.13" y2="281.30" stroke-width="1.5"/><line x1="604.33" y1="281.70" x2="611.13" y2="281.70" stroke-width="1.5"/><line x1="624.63" y1="281.30" x2="624.63" y2="281.70"/><line x1="621.23" y1="281.30" x2="628.03" y2="281.30" stroke-width="1.5"/><line x1="621.23" y1="281.70" x2="628.03" y2="281.70" stroke-width="1.5"/><line x1="641.53" y1="281.30" x2="641.53" y2="281.70"/><line x1="638.13" y1="281.30" x2="644.93" y2="281.30" stroke-width="1.5"/><line x1="638.13" y1="281.70" x2="644.93" y2="281.70" stroke-width="1.5"/><line x1="658.43" y1="279.81" x2="658.43" y2="280.21"/><line x1="655.03" y1="279.81" x2="661.83" y2="279.81" stroke-width="1.5"/><line x1="655.03" y1="280.21" x2="661.83" y2="280.21" stroke-width="1.5"/><line x1="675.33" y1="280.30" x2="675.33" y2="280.69"/><line x1="671.93" y1="280.30" x2="678.73" y2="280.30" stroke-width="1.5"/><line x1="671.93" y1="280.69" x2="678.73" y2="280.69" stroke-width="1.5"/></g>
<path d="M523.23,264.60 L540.13,268.30 L557.03,266.82 L573.93,267.38 L590.83,270.52 L607.73,267.10 L624.63,269.79 L641.53,270.84 L658.43,269.63 L675.33,271.32" fill="none" stroke="#000000" stroke-width="1.75" stroke-linejoin="round" clip-path="url(#c5)"/><g fill="#000000" stroke="#000000" stroke-width="1.0" clip-path="url(#c5)"><circle cx="523.23" cy="264.60" r="4.60"/><circle cx="540.13" cy="268.30" r="4.60"/><circle cx="557.03" cy="266.82" r="4.60"/><circle cx="573.93" cy="267.38" r="4.60"/><circle cx="590.83" cy="270.52" r="4.60"/><circle cx="607.73" cy="267.10" r="4.60"/><circle cx="624.63" cy="269.79" r="4.60"/><circle cx="641.53" cy="270.84" r="4.60"/><circle cx="658.43" cy="269.63" r="4.60"/><circle cx="675.33" cy="271.32" r="4.60"/></g>
<path d="M523.23,203.25 L540.13,206.87 L557.03,212.10 L573.93,211.70 L590.83,218.33 L607.73,213.83 L624.63,212.10 L641.53,210.61 L658.43,214.91 L675.33,214.51" fill="none" stroke="#e69f00" stroke-width="1.75" stroke-dasharray="6.48 2.80" stroke-linejoin="round" clip-path="url(#c5)"/><g fill="#e69f00" stroke="#e69f00" stroke-width="1.0" clip-path="url(#c5)"><rect x="518.63" y="198.65" width="9.20" height="9.20"/><rect x="535.53" y="202.27" width="9.20" height="9.20"/><rect x="552.43" y="207.50" width="9.20" height="9.20"/><rect x="569.33" y="207.10" width="9.20" height="9.20"/><rect x="586.23" y="213.73" width="9.20" height="9.20"/><rect x="603.13" y="209.23" width="9.20" height="9.20"/><rect x="620.03" y="207.50" width="9.20" height="9.20"/><rect x="636.93" y="206.01" width="9.20" height="9.20"/><rect x="653.83" y="210.31" width="9.20" height="9.20"/><rect x="670.73" y="209.91" width="9.20" height="9.20"/></g>
<path d="M523.23,288.22 L540.13,288.62 L557.03,286.73 L573.93,280.82 L590.83,281.50 L607.73,281.50 L624.63,281.50 L641.53,281.50 L658.43,280.01 L675.33,280.50" fill="none" stroke="#56b4e9" stroke-width="1.75" stroke-dasharray="11.20 2.80 1.75 2.80" stroke-linejoin="round" clip-path="url(#c5)"/><g fill="#56b4e9" stroke="#56b4e9" stroke-width="1.0" clip-path="url(#c5)"><path d="M523.23,283.22 L518.23,293.22 L528.23,293.22 Z"/><path d="M540.13,283.62 L535.13,293.62 L545.13,293.62 Z"/><path d="M557.03,281.73 L552.03,291.73 L562.03,291.73 Z"/><path d="M573.93,275.82 L568.93,285.82 L578.93,285.82 Z"/><path d="M590.83,276.50 L585.83,286.50 L595.83,286.50 Z"/><path d="M607.73,276.50 L602.73,286.50 L612.73,286.50 Z"/><path d="M624.63,276.50 L619.63,286.50 L629.63,286.50 Z"/><path d="M641.53,276.50 L636.53,286.50 L646.53,286.50 Z"/><path d="M658.43,275.01 L653.43,285.01 L663.43,285.01 Z"/><path d="M675.33,275.50 L670.33,285.50 L680.33,285.50 Z"/></g>
<rect x="515.84" y="189.97" width="167.26" height="120.70" fill="none" stroke="#262626" stroke-width="1.6" stroke-linecap="square"/>
<text y="14" font-size="17.24" fill="#262626"><tspan x="110.12" textLength="8.64" lengthAdjust="spacingAndGlyphs">F</tspan><tspan x="119.70" textLength="9.24" lengthAdjust="spacingAndGlyphs">1</tspan></text>
<text y="14" font-size="17.24" fill="#262626"><tspan x="320.56" textLength="11.09" lengthAdjust="spacingAndGlyphs">A</tspan><tspan x="331.67" textLength="8.28" lengthAdjust="spacingAndGlyphs">c</tspan><tspan x="340.74" textLength="8.28" lengthAdjust="spacingAndGlyphs">c</tspan><tspan x="349.85" textLength="9.89" lengthAdjust="spacingAndGlyphs">u</tspan><tspan x="360.16" textLength="7.04" lengthAdjust="spacingAndGlyphs">r</tspan><tspan x="367.21" textLength="8.25" lengthAdjust="spacingAndGlyphs">a</tspan><tspan x="377.17" textLength="8.28" lengthAdjust="spacingAndGlyphs">c</tspan><tspan x="386.48" textLength="8.86" lengthAdjust="spacingAndGlyphs">y</tspan></text>
<text y="14" font-size="17.24" fill="#262626"><tspan x="544.82" textLength="10.99" lengthAdjust="spacingAndGlyphs">T</tspan><tspan x="553.02" textLength="7.04" lengthAdjust="spacingAndGlyphs">r</tspan><tspan x="560.07" textLength="8.25" lengthAdjust="spacingAndGlyphs">a</tspan><tspan x="570.24" textLength="3.75" lengthAdjust="spacingAndGlyphs">i</tspan><tspan x="574.72" textLength="9.89" lengthAdjust="spacingAndGlyphs">n</tspan><tspan x="584.86"> </tspan><tspan x="590.21" textLength="6.13" lengthAdjust="spacingAndGlyphs">t</tspan><tspan x="597.00" textLength="3.75" lengthAdjust="spacingAndGlyphs">i</tspan><tspan x="601.41" textLength="15.66" lengthAdjust="spacingAndGlyphs">m</tspan><tspan x="617.38" textLength="9.91" lengthAdjust="spacingAndGlyphs">e</tspan><tspan x="627.38"> </tspan><tspan x="633.18" textLength="4.64" lengthAdjust="spacingAndGlyphs">(</tspan><tspan x="639.52" textLength="7.91" lengthAdjust="spacingAndGlyphs">s</tspan><tspan x="648.90" textLength="4.64" lengthAdjust="spacingAndGlyphs">)</tspan></text>
<text y="179" font-size="17.24" fill="#262626"><tspan x="83.15" textLength="9.73" lengthAdjust="spacingAndGlyphs">P</tspan><tspan x="92.49" textLength="7.04" lengthAdjust="spacingAndGlyphs">r</tspan><tspan x="98.96" textLength="9.91" lengthAdjust="spacingAndGlyphs">e</tspan><tspan x="109.17" textLength="8.28" lengthAdjust="spacingAndGlyphs">c</tspan><tspan x="118.46" textLength="3.75" lengthAdjust="spacingAndGlyphs">i</tspan><tspan x="123.07" textLength="7.91" lengthAdjust="spacingAndGlyphs">s</tspan><tspan x="131.64" textLength="3.75" lengthAdjust="spacingAndGlyphs">i</tspan><tspan x="135.97" textLength="9.76" lengthAdjust="spacingAndGlyphs">o</tspan><tspan x="146.21" textLength="9.89" lengthAdjust="spacingAndGlyphs">n</tspan></text>
<text y="179" font-size="17.24" fill="#262626"><tspan x="333.83" textLength="11.40" lengthAdjust="spacingAndGlyphs">R</tspan><tspan x="344.38" textLength="9.91" lengthAdjust="spacingAndGlyphs">e</tspan><tspan x="354.58" textLength="8.28" lengthAdjust="spacingAndGlyphs">c</tspan><tspan x="363.81" textLength="8.25" lengthAdjust="spacingAndGlyphs">a</tspan><tspan x="373.98" textLength="3.75" lengthAdjust="spacingAndGlyphs">l</tspan><tspan x="378.56" textLength="3.75" lengthAdjust="spacingAndGlyphs">l</tspan></text>
<text y="179" font-size="17.24" fill="#262626"><tspan x="548.17" textLength="10.99" lengthAdjust="spacingAndGlyphs">T</tspan><tspan x="556.05" textLength="9.91" lengthAdjust="spacingAndGlyphs">e</tspan><tspan x="566.50" textLength="7.91" lengthAdjust="spacingAndGlyphs">s</tspan><tspan x="574.75" textLength="6.13" lengthAdjust="spacingAndGlyphs">t</tspan><tspan x="581.11"> </tspan><tspan x="586.46" textLength="6.13" lengthAdjust="spacingAndGlyphs">t</tspan><tspan x="593.25" textLength="3.75" lengthAdjust="spacingAndGlyphs">i</tspan><tspan x="597.66" textLength="15.66" lengthAdjust="spacingAndGlyphs">m</tspan><tspan x="613.63" textLength="9.91" lengthAdjust="spacingAndGlyphs">e</tspan><tspan x="623.63"> </tspan><tspan x="629.43" textLength="4.64" lengthAdjust="spacingAndGlyphs">(</tspan><tspan x="635.77" textLength="7.91" lengthAdjust="spacingAndGlyphs">s</tspan><tspan x="645.15" textLength="4.64" lengthAdjust="spacingAndGlyphs">)</tspan></text>
<text y="18" font-size="17.24" font-weight="bold" fill="#262626"><tspan x="39.22" textLength="9.52" lengthAdjust="spacingAndGlyphs">a</tspan><tspan x="51.45" textLength="5.67" lengthAdjust="spacingAndGlyphs">)</tspan></text>
<text y="18" font-size="17.24" font-weight="bold" fill="#262626"><tspan x="277.09" textLength="11.74" lengthAdjust="spacingAndGlyphs">b</tspan><tspan x="290.09" textLength="5.67" lengthAdjust="spacingAndGlyphs">)</tspan></text>
<text y="18" font-size="17.24" font-weight="bold" fill="#262626"><tspan x="515.76" textLength="9.08" lengthAdjust="spacingAndGlyphs">c</tspan><tspan x="526.78" textLength="5.67" lengthAdjust="spacingAndGlyphs">)</tspan></text>
<text y="184" font-size="17.24" font-weight="bold" fill="#262626"><tspan x="38.96" textLength="11.74" lengthAdjust="spacingAndGlyphs">d</tspan><tspan x="52.13" textLength="5.67" lengthAdjust="spacingAndGlyphs">)</tspan></text>
<text y="184" font-size="17.24" font-weight="bold" fill="#262626"><tspan x="276.90" textLength="11.15" lengthAdjust="spacingAndGlyphs">e</tspan><tspan x="289.47" textLength="5.67" lengthAdjust="spacingAndGlyphs">)</tspan></text>
<text y="184" font-size="17.24" font-weight="bold" fill="#262626"><tspan x="515.63" textLength="7.34" lengthAdjust="spacingAndGlyphs">f</tspan><tspan x="524.17" textLength="5.67" lengthAdjust="spacingAndGlyphs">)</tspan></text>
<text y="337" font-size="16.75" fill="#262626"><tspan x="92.24" textLength="9.14" lengthAdjust="spacingAndGlyphs">9</tspan></text>
<text y="337" font-size="16.75" fill="#262626"><tspan x="155.35" textLength="8.45" lengthAdjust="spacingAndGlyphs">1</tspan><tspan x="165.03" textLength="8.50" lengthAdjust="spacingAndGlyphs">3</tspan></text>
<text y="360" font-size="17.75" fill="#262626"><tspan x="59.21" textLength="3.75" lengthAdjust="spacingAndGlyphs">l</tspan><tspan x="63.55" textLength="9.76" lengthAdjust="spacingAndGlyphs">o</tspan><tspan x="73.63" textLength="9.97" lengthAdjust="spacingAndGlyphs">g</tspan></text>
<text y="363" font-size="13.34" fill="#262626"><tspan x="84.62" textLength="6.56" lengthAdjust="spacingAndGlyphs">2</tspan></text>
<text y="360" font-size="17.75" fill="#262626"><tspan x="93.20" textLength="4.64" lengthAdjust="spacingAndGlyphs">(</tspan><tspan x="98.63" textLength="10.99" lengthAdjust="spacingAndGlyphs">T</tspan><tspan x="109.26" textLength="7.04" lengthAdjust="spacingAndGlyphs">r</tspan><tspan x="116.31" textLength="8.25" lengthAdjust="spacingAndGlyphs">a</tspan><tspan x="126.49" textLength="3.75" lengthAdjust="spacingAndGlyphs">i</tspan><tspan x="130.96" textLength="9.89" lengthAdjust="spacingAndGlyphs">n</tspan><tspan x="141.10"> </tspan><tspan x="146.76" textLength="9.81" lengthAdjust="spacingAndGlyphs">S</tspan><tspan x="157.25" textLength="3.75" lengthAdjust="spacingAndGlyphs">i</tspan><tspan x="161.40" textLength="8.84" lengthAdjust="spacingAndGlyphs">z</tspan><tspan x="170.22" textLength="9.91" lengthAdjust="spacingAndGlyphs">e</tspan><tspan x="181.45" textLength="4.64" lengthAdjust="spacingAndGlyphs">)</tspan></text>
<text y="337" font-size="16.75" fill="#262626"><tspan x="330.63" textLength="9.14" lengthAdjust="spacingAndGlyphs">9</tspan></text>
<text y="337" font-size="16.75" fill="#262626"><tspan x="393.74" textLength="8.45" lengthAdjust="spacingAndGlyphs">1</tspan><tspan x="403.42" textLength="8.50" lengthAdjust="spacingAndGlyphs">3</tspan></text>
<text y="360" font-size="17.75" fill="#262626"><tspan x="297.17" textLength="3.75" lengthAdjust="spacingAndGlyphs">l</tspan><tspan x="301.51" textLength="9.76" lengthAdjust="spacingAndGlyphs">o</tspan><tspan x="311.59" textLength="9.97" lengthAdjust="spacingAndGlyphs">g</tspan></text>
<text y="363" font-size="13.34" fill="#262626"><tspan x="322.58" textLength="6.56" lengthAdjust="spacingAndGlyphs">2</tspan></text>
<text y="360" font-size="17.75" fill="#262626"><tspan x="331.16" textLength="4.64" lengthAdjust="spacingAndGlyphs">(</tspan><tspan x="336.59" textLength="10.99" lengthAdjust="spacingAndGlyphs">T</tspan><tspan x="347.22" textLength="7.04" lengthAdjust="spacingAndGlyphs">r</tspan><tspan x="354.27" textLength="8.25" lengthAdjust="spacingAndGlyphs">a</tspan><tspan x="364.45" textLength="3.75" lengthAdjust="spacingAndGlyphs">i</tspan><tspan x="368.92" textLength="9.89" lengthAdjust="spacingAndGlyphs">n</tspan><tspan x="379.06"> </tspan><tspan x="384.72" textLength="9.81" lengthAdjust="spacingAndGlyphs">S</tspan><tspan x="395.21" textLength="3.75" lengthAdjust="spacingAndGlyphs">i</tspan><tspan x="399.36" textLength="8.84" lengthAdjust="spacingAndGlyphs">z</tspan><tspan x="408.18" textLength="9.91" lengthAdjust="spacingAndGlyphs">e</tspan><tspan x="419.41" textLength="4.64" lengthAdjust="spacingAndGlyphs">)</tspan></text>
<text y="337" font-size="16.75" fill="#262626"><tspan x="569.31" textLength="9.14" lengthAdjust="spacingAndGlyphs">9</tspan></text>
<text y="337" font-size="16.75" fill="#262626"><tspan x="632.42" textLength="8.45" lengthAdjust="spacingAndGlyphs">1</tspan><tspan x="642.10" textLength="8.50" lengthAdjust="spacingAndGlyphs">3</tspan></text>
<text y="360" font-size="17.75" fill="#262626"><tspan x="535.89" textLength="3.75" lengthAdjust="spacingAndGlyphs">l</tspan><tspan x="540.23" textLength="9.76" lengthAdjust="spacingAndGlyphs">o</tspan><tspan x="550.31" textLength="9.97" lengthAdjust="spacingAndGlyphs">g</tspan></text>
<text y="363" font-size="13.34" fill="#262626"><tspan x="561.30" textLength="6.56" lengthAdjust="spacingAndGlyphs">2</tspan></text>
<text y="360" font-size="17.75" fill="#262626"><tspan x="569.88" textLength="4.64" lengthAdjust="spacingAndGlyphs">(</tspan><tspan x="575.31" textLength="10.99" lengthAdjust="spacingAndGlyphs">T</tspan><tspan x="585.94" textLength="7.04" lengthAdjust="spacingAndGlyphs">r</tspan><tspan x="592.99" textLength="8.25" lengthAdjust="spacingAndGlyphs">a</tspan><tspan x="603.17" textLength="3.75" lengthAdjust="spacingAndGlyphs">i</tspan><tspan x="607.64" textLength="9.89" lengthAdjust="spacingAndGlyphs">n</tspan><tspan x="617.78"> </tspan><tspan x="623.44" textLength="9.81" lengthAdjust="spacingAndGlyphs">S</tspan><tspan x="633.93" textLength="3.75" lengthAdjust="spacingAndGlyphs">i</tspan><tspan x="638.08" textLength="8.84" lengthAdjust="spacingAndGlyphs">z</tspan><tspan x="646.90" textLength="9.91" lengthAdjust="spacingAndGlyphs">e</tspan><tspan x="658.13" textLength="4.64" lengthAdjust="spacingAndGlyphs">)</tspan></text>
<rect x="114.3" y="382.3" width="453.8" height="26.45" rx="3.2" ry="3.2" fill="#ffffff" stroke="#d2d2d2" stroke-width="1.3"/>
<line x1="120.6" y1="394.8" x2="151.5" y2="394.8" stroke="#000000" stroke-width="1.75"/>
<g stroke="#000000" stroke-width="1.75"><line x1="136.05" y1="387.2" x2="136.05" y2="402.40000000000003"/><line x1="132.65" y1="387.2" x2="139.45000000000002" y2="387.2" stroke-width="1.5"/><line x1="132.65" y1="402.40000000000003" x2="139.45000000000002" y2="402.40000000000003" stroke-width="1.5"/></g>
<g fill="#000000" stroke="#000000" stroke-width="1.0"><circle cx="136.05" cy="394.80" r="4.60"/></g>
<line x1="307.1" y1="394.8" x2="338.0" y2="394.8" stroke="#e69f00" stroke-width="1.75" stroke-dasharray="6.48 2.80"/>
<g stroke="#e69f00" stroke-width="1.75"><line x1="322.55" y1="387.2" x2="322.55" y2="402.40000000000003"/><line x1="319.15000000000003" y1="387.2" x2="325.95" y2="387.2" stroke-width="1.5"/><line x1="319.15000000000003" y1="402.40000000000003" x2="325.95" y2="402.40000000000003" stroke-width="1.5"/></g>
<g fill="#e69f00" stroke="#e69f00" stroke-width="1.0"><rect x="317.95" y="390.20" width="9.20" height="9.20"/></g>
<line x1="423.3" y1="394.8" x2="453.0" y2="394.8" stroke="#56b4e9" stroke-width="1.75" stroke-dasharray="11.20 2.80 1.75 2.80"/>
<g stroke="#56b4e9" stroke-width="1.75"><line x1="438.15" y1="387.2" x2="438.15" y2="402.40000000000003"/><line x1="434.75" y1="387.2" x2="441.54999999999995" y2="387.2" stroke-width="1.5"/><line x1="434.75" y1="402.40000000000003" x2="441.54999999999995" y2="402.40000000000003" stroke-width="1.5"/></g>
<g fill="#56b4e9" stroke="#56b4e9" stroke-width="1.0"><path d="M438.15,389.80 L433.15,399.80 L443.15,399.80 Z"/></g>
<text y="400" font-size="16.01" fill="#262626"><tspan x="163.65" textLength="8.73" lengthAdjust="spacingAndGlyphs">E</tspan><tspan x="172.92" textLength="11.61" lengthAdjust="spacingAndGlyphs">Q</tspan><tspan x="184.25" textLength="10.06" lengthAdjust="spacingAndGlyphs">T</tspan><tspan x="191.76" textLength="6.44" lengthAdjust="spacingAndGlyphs">r</tspan><tspan x="198.21" textLength="7.55" lengthAdjust="spacingAndGlyphs">a</tspan><tspan x="207.42" textLength="9.05" lengthAdjust="spacingAndGlyphs">n</tspan><tspan x="217.12" textLength="7.24" lengthAdjust="spacingAndGlyphs">s</tspan><tspan x="224.64" textLength="5.51" lengthAdjust="spacingAndGlyphs">f</tspan><tspan x="230.05" textLength="8.93" lengthAdjust="spacingAndGlyphs">o</tspan><tspan x="239.21" textLength="6.44" lengthAdjust="spacingAndGlyphs">r</tspan><tspan x="245.30" textLength="14.33" lengthAdjust="spacingAndGlyphs">m</tspan><tspan x="259.92" textLength="9.07" lengthAdjust="spacingAndGlyphs">e</tspan><tspan x="269.15" textLength="6.44" lengthAdjust="spacingAndGlyphs">r</tspan></text>
<text y="400" font-size="16.01" fill="#262626"><tspan x="350.46" textLength="10.12" lengthAdjust="spacingAndGlyphs">C</tspan><tspan x="361.16" textLength="10.43" lengthAdjust="spacingAndGlyphs">R</tspan><tspan x="371.76" textLength="8.73" lengthAdjust="spacingAndGlyphs">E</tspan><tspan x="381.10" textLength="11.28" lengthAdjust="spacingAndGlyphs">D</tspan></text>
<text y="400" font-size="16.01" fill="#262626"><tspan x="467.04" textLength="7.91" lengthAdjust="spacingAndGlyphs">F</tspan><tspan x="474.25" textLength="7.55" lengthAdjust="spacingAndGlyphs">a</tspan><tspan x="483.59" textLength="7.24" lengthAdjust="spacingAndGlyphs">s</tspan><tspan x="491.14" textLength="5.61" lengthAdjust="spacingAndGlyphs">t</tspan><tspan x="497.21" textLength="12.54" lengthAdjust="spacingAndGlyphs">M</tspan><tspan x="510.32" textLength="7.55" lengthAdjust="spacingAndGlyphs">a</tspan><tspan x="519.56" textLength="9.14" lengthAdjust="spacingAndGlyphs">p</tspan><tspan x="529.21" textLength="8.98" lengthAdjust="spacingAndGlyphs">S</tspan><tspan x="538.46" textLength="10.22" lengthAdjust="spacingAndGlyphs">V</tspan><tspan x="548.99" textLength="12.54" lengthAdjust="spacingAndGlyphs">M</tspan></text></svg>
</body></html>
